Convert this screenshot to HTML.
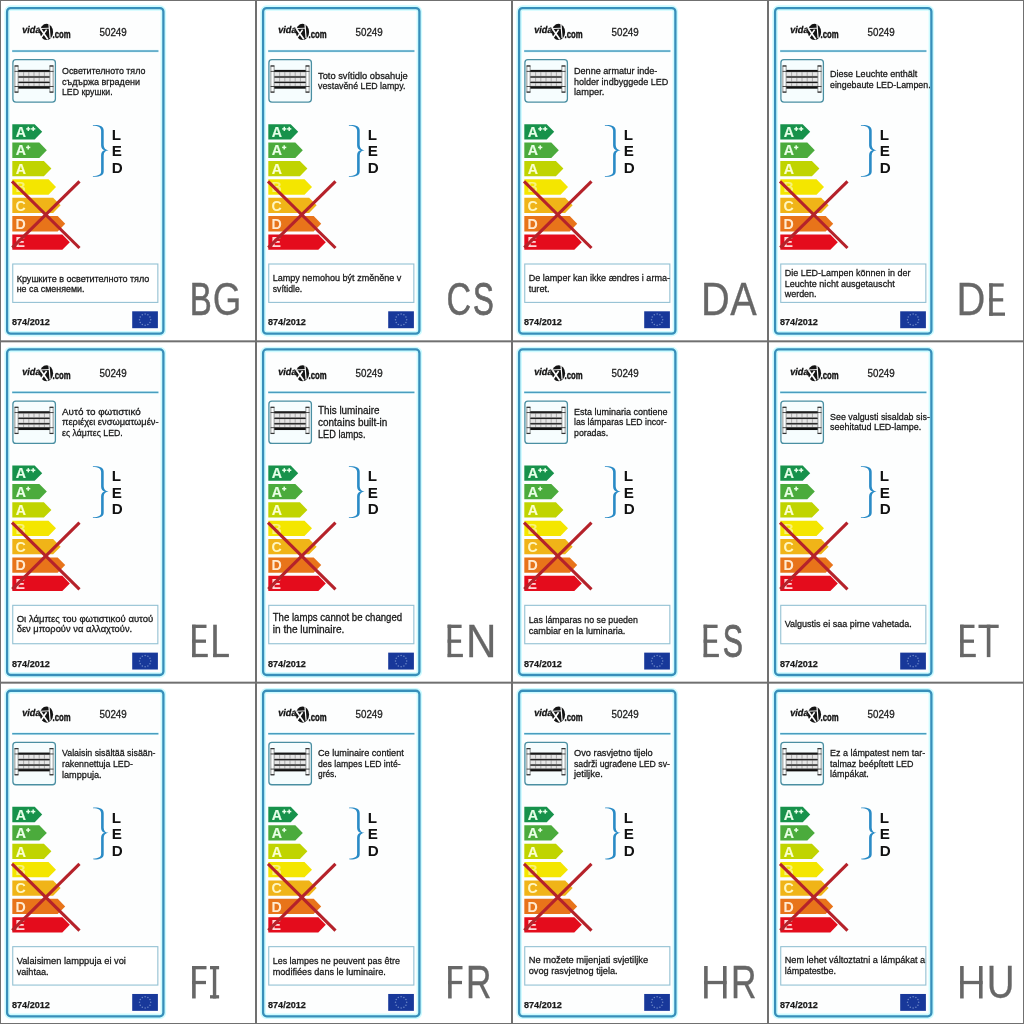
<!DOCTYPE html>
<html><head><meta charset="utf-8"><style>
html,body{margin:0;padding:0;background:#fff;width:1024px;height:1024px;overflow:hidden}
svg{display:block;will-change:transform}
text{font-family:"Liberation Sans", sans-serif}
</style></head><body>
<svg width="1024" height="1024" viewBox="0 0 1024 1024">
<rect width="1024" height="1024" fill="#fff"/>
<g transform="translate(0,0.000)">
<rect x="7.1" y="8.1" width="156.3" height="325.55" rx="3.5" fill="#fdfefe" stroke="#cdfbff" stroke-width="5.5"/>
<rect x="7.1" y="8.1" width="156.3" height="325.55" rx="3.5" fill="none" stroke="#378fba" stroke-width="2.3"/>
<rect x="12.0" y="49.8" width="146.6" height="2.6" fill="#d8f6fb"/><rect x="12.2" y="50.3" width="146.2" height="1.5" fill="#4a9dbf"/>
<text transform="translate(21.7 33.3) skewX(-10)" x="0" y="0" font-size="9.8" font-weight="bold" fill="#141414" stroke="#141414" stroke-width="0.3" textLength="18.4" lengthAdjust="spacingAndGlyphs">vida</text>
<ellipse cx="46.5" cy="31.9" rx="6.6" ry="8.1" fill="#141414"/>
<line x1="40.6" y1="29.0" x2="47.8" y2="39.2" stroke="#fff" stroke-width="1.7"/>
<line x1="40.4" y1="38.6" x2="46.6" y2="29.6" stroke="#fff" stroke-width="1.6"/>
<line x1="48.9" y1="23.2" x2="50.1" y2="38.0" stroke="#fff" stroke-width="1.2"/>
<line x1="39.5" y1="28.6" x2="49.0" y2="28.2" stroke="#fff" stroke-width="0.9"/>
<text x="52.6" y="38.0" font-size="10.0" font-weight="bold" fill="#141414" stroke="#141414" stroke-width="0.4" textLength="18.0" lengthAdjust="spacingAndGlyphs">.com</text>
<text x="99.5" y="35.6" font-size="10.1" fill="#222" stroke="#222" stroke-width="0.3" textLength="27.2" lengthAdjust="spacingAndGlyphs">50249</text>
<rect x="12.9" y="59.7" width="42.5" height="42.4" rx="3" fill="#f6fdfe" stroke="#4a8fa2" stroke-width="1.3"/>
<rect x="14.9" y="65.9" width="3.2" height="26.2" fill="#fdfefe" stroke="#6a7070" stroke-width="0.75"/>
<rect x="14.6" y="65.4" width="3.8" height="1.2" fill="#333"/>
<rect x="14.6" y="91.5" width="3.8" height="1.2" fill="#333"/>
<rect x="49.9" y="65.9" width="3.2" height="26.2" fill="#fdfefe" stroke="#6a7070" stroke-width="0.75"/>
<rect x="49.6" y="65.4" width="3.8" height="1.2" fill="#333"/>
<rect x="49.6" y="91.5" width="3.8" height="1.2" fill="#333"/>
<rect x="18.3" y="71.7" width="31.4" height="14.6" fill="#a9a9a9"/>
<rect x="18.90" y="72.30" width="4.20" height="3.50" fill="#e6e6e6"/>
<rect x="24.10" y="72.30" width="4.20" height="3.50" fill="#e6e6e6"/>
<rect x="29.30" y="72.30" width="4.20" height="3.50" fill="#e6e6e6"/>
<rect x="34.50" y="72.30" width="4.20" height="3.50" fill="#e6e6e6"/>
<rect x="39.70" y="72.30" width="4.20" height="3.50" fill="#e6e6e6"/>
<rect x="44.90" y="72.30" width="4.20" height="3.50" fill="#e6e6e6"/>
<rect x="18.90" y="77.90" width="4.20" height="3.40" fill="#e6e6e6"/>
<rect x="24.10" y="77.90" width="4.20" height="3.40" fill="#e6e6e6"/>
<rect x="29.30" y="77.90" width="4.20" height="3.40" fill="#e6e6e6"/>
<rect x="34.50" y="77.90" width="4.20" height="3.40" fill="#e6e6e6"/>
<rect x="39.70" y="77.90" width="4.20" height="3.40" fill="#e6e6e6"/>
<rect x="44.90" y="77.90" width="4.20" height="3.40" fill="#e6e6e6"/>
<rect x="18.90" y="83.40" width="4.20" height="2.40" fill="#e6e6e6"/>
<rect x="24.10" y="83.40" width="4.20" height="2.40" fill="#e6e6e6"/>
<rect x="29.30" y="83.40" width="4.20" height="2.40" fill="#e6e6e6"/>
<rect x="34.50" y="83.40" width="4.20" height="2.40" fill="#e6e6e6"/>
<rect x="39.70" y="83.40" width="4.20" height="2.40" fill="#e6e6e6"/>
<rect x="44.90" y="83.40" width="4.20" height="2.40" fill="#e6e6e6"/>
<rect x="18.3" y="69.9" width="31.4" height="2.0" fill="#111"/>
<rect x="18.3" y="76.4" width="31.4" height="1.2" fill="#1a1a1a"/>
<rect x="18.3" y="81.8" width="31.4" height="1.2" fill="#1a1a1a"/>
<rect x="18.3" y="86.4" width="31.4" height="2.3" fill="#111"/>
<rect x="14.6" y="70.9" width="38.9" height="0.8" fill="#222"/>
<rect x="14.6" y="86.0" width="38.9" height="0.8" fill="#222"/>
<polygon points="12.3,124.20 34.70,124.20 42.20,131.85 34.70,139.50 12.3,139.50" fill="#17924b"/>
<polygon points="12.3,142.58 39.30,142.58 46.80,150.23 39.30,157.88 12.3,157.88" fill="#4bab3c"/>
<polygon points="12.3,160.96 43.90,160.96 51.40,168.61 43.90,176.26 12.3,176.26" fill="#c0d400"/>
<polygon points="12.3,179.34 48.50,179.34 56.00,186.99 48.50,194.64 12.3,194.64" fill="#f4e600"/>
<polygon points="12.3,197.72 53.10,197.72 60.60,205.37 53.10,213.02 12.3,213.02" fill="#f0b418"/>
<polygon points="12.3,216.10 57.70,216.10 65.20,223.75 57.70,231.40 12.3,231.40" fill="#e8741a"/>
<polygon points="12.3,234.48 62.30,234.48 69.80,242.13 62.30,249.78 12.3,249.78" fill="#e40c1c"/>
<text x="15.799999999999999" y="137.10" font-size="14.2" font-weight="bold" fill="#e6ffe8" stroke="#e6ffe8" stroke-width="0.15">A</text>
<text x="15.799999999999999" y="155.48" font-size="14.2" font-weight="bold" fill="#eaffe6" stroke="#eaffe6" stroke-width="0.15">A</text>
<text x="15.799999999999999" y="173.86" font-size="14.2" font-weight="bold" fill="#fbffd0" stroke="#fbffd0" stroke-width="0.15">A</text>
<text x="15.6" y="192.24" font-size="14.2" font-weight="bold" fill="#f8f27a" stroke="#f8f27a" stroke-width="0.0">B</text>
<text x="15.6" y="210.62" font-size="14.2" font-weight="bold" fill="#fff6c0" stroke="#fff6c0" stroke-width="0.0">C</text>
<text x="15.6" y="229.00" font-size="14.2" font-weight="bold" fill="#ffead0" stroke="#ffead0" stroke-width="0.0">D</text>
<text x="15.6" y="247.38" font-size="14.2" font-weight="bold" fill="#ffd6d6" stroke="#ffd6d6" stroke-width="0.0">E</text>
<rect x="26.20" y="128.15" width="4.20" height="1.5" fill="#e6ffe8"/><rect x="27.55" y="126.80" width="1.5" height="4.20" fill="#e6ffe8"/>
<rect x="31.10" y="128.15" width="4.20" height="1.5" fill="#e6ffe8"/><rect x="32.45" y="126.80" width="1.5" height="4.20" fill="#e6ffe8"/>
<rect x="26.10" y="146.65" width="4.20" height="1.5" fill="#eaffe6"/><rect x="27.45" y="145.30" width="1.5" height="4.20" fill="#eaffe6"/>
<line x1="12" y1="181.3" x2="79.5" y2="248" stroke="#b5222a" stroke-width="3.1"/>
<line x1="79.5" y1="181.3" x2="12.3" y2="247.7" stroke="#b5222a" stroke-width="3.1"/>
<path d="M92.9,125.0 C99.5,124.6 103.7,126.2 103.7,130.5 L103.7,145.0 C103.7,148.2 105.5,149.8 108.6,150.2 C105.5,150.6 103.7,152.2 103.7,155.4 L103.7,171.5 C103.7,175.6 99.5,177.0 92.9,176.7 L92.9,176.0 C98.5,175.9 101.1,174.5 101.1,171.2 L101.1,155.0 C101.1,152.2 102.6,150.7 104.8,150.2 C102.6,149.7 101.1,148.2 101.1,145.4 L101.1,130.8 C101.1,127.4 98.5,125.8 92.9,125.7 Z" fill="#2a8bc6"/>
<text x="111.8" y="139.90" font-size="15.2" font-weight="bold" fill="#111">L</text>
<text x="111.8" y="156.45" font-size="15.2" font-weight="bold" fill="#111">E</text>
<text x="111.8" y="173.00" font-size="15.2" font-weight="bold" fill="#111">D</text>
<rect x="12.75" y="264" width="145.1" height="38.4" fill="#fff" stroke="#93c1d3" stroke-width="1.1"/>
<text x="12.0" y="325.2" font-size="9.6" font-weight="bold" fill="#1a1a1a" stroke="#1a1a1a" stroke-width="0.25" textLength="37.9" lengthAdjust="spacingAndGlyphs">874/2012</text>
<rect x="132.2" y="311.3" width="25.7" height="16.9" fill="#18389a"/>
<circle cx="150.70" cy="319.70" r="0.75" fill="#6d88c8"/>
<circle cx="149.95" cy="322.50" r="0.75" fill="#6d88c8"/>
<circle cx="147.90" cy="324.55" r="0.75" fill="#6d88c8"/>
<circle cx="145.10" cy="325.30" r="0.75" fill="#6d88c8"/>
<circle cx="142.30" cy="324.55" r="0.75" fill="#6d88c8"/>
<circle cx="140.25" cy="322.50" r="0.75" fill="#6d88c8"/>
<circle cx="139.50" cy="319.70" r="0.75" fill="#6d88c8"/>
<circle cx="140.25" cy="316.90" r="0.75" fill="#6d88c8"/>
<circle cx="142.30" cy="314.85" r="0.75" fill="#6d88c8"/>
<circle cx="145.10" cy="314.10" r="0.75" fill="#6d88c8"/>
<circle cx="147.90" cy="314.85" r="0.75" fill="#6d88c8"/>
<circle cx="149.95" cy="316.90" r="0.75" fill="#6d88c8"/>
<text x="62.0" y="74.2" font-size="9.9" fill="#161616" stroke="#161616" stroke-width="0.28" textLength="83.35" lengthAdjust="spacingAndGlyphs">Осветителното тяло</text>
<text x="62.0" y="84.7" font-size="9.9" fill="#161616" stroke="#161616" stroke-width="0.28" textLength="77.95" lengthAdjust="spacingAndGlyphs">съдържа вградени</text>
<text x="62.0" y="95.3" font-size="9.9" fill="#161616" stroke="#161616" stroke-width="0.28" textLength="50.60" lengthAdjust="spacingAndGlyphs">LED крушки.</text>
<text x="16.7" y="281.8" font-size="9.9" fill="#161616" stroke="#161616" stroke-width="0.28" textLength="132.70" lengthAdjust="spacingAndGlyphs">Крушките в осветителното тяло</text>
<text x="16.7" y="291.9" font-size="9.9" fill="#161616" stroke="#161616" stroke-width="0.28" textLength="67.80" lengthAdjust="spacingAndGlyphs">не са сменяеми.</text>
<text transform="translate(192.20 315.45) scale(0.7047 1)" x="-3.52" y="0" font-size="46.8" fill="#676767" stroke="#676767" stroke-width="0.63">B</text>
<text transform="translate(214.40 315.45) scale(0.7844 1)" x="-2.20" y="0" font-size="46.8" fill="#676767" stroke="#676767" stroke-width="0.30">G</text>
</g><g transform="translate(256,0.000)">
<rect x="7.1" y="8.1" width="156.3" height="325.55" rx="3.5" fill="#fdfefe" stroke="#cdfbff" stroke-width="5.5"/>
<rect x="7.1" y="8.1" width="156.3" height="325.55" rx="3.5" fill="none" stroke="#378fba" stroke-width="2.3"/>
<rect x="12.0" y="49.8" width="146.6" height="2.6" fill="#d8f6fb"/><rect x="12.2" y="50.3" width="146.2" height="1.5" fill="#4a9dbf"/>
<text transform="translate(21.7 33.3) skewX(-10)" x="0" y="0" font-size="9.8" font-weight="bold" fill="#141414" stroke="#141414" stroke-width="0.3" textLength="18.4" lengthAdjust="spacingAndGlyphs">vida</text>
<ellipse cx="46.5" cy="31.9" rx="6.6" ry="8.1" fill="#141414"/>
<line x1="40.6" y1="29.0" x2="47.8" y2="39.2" stroke="#fff" stroke-width="1.7"/>
<line x1="40.4" y1="38.6" x2="46.6" y2="29.6" stroke="#fff" stroke-width="1.6"/>
<line x1="48.9" y1="23.2" x2="50.1" y2="38.0" stroke="#fff" stroke-width="1.2"/>
<line x1="39.5" y1="28.6" x2="49.0" y2="28.2" stroke="#fff" stroke-width="0.9"/>
<text x="52.6" y="38.0" font-size="10.0" font-weight="bold" fill="#141414" stroke="#141414" stroke-width="0.4" textLength="18.0" lengthAdjust="spacingAndGlyphs">.com</text>
<text x="99.5" y="35.6" font-size="10.1" fill="#222" stroke="#222" stroke-width="0.3" textLength="27.2" lengthAdjust="spacingAndGlyphs">50249</text>
<rect x="12.9" y="59.7" width="42.5" height="42.4" rx="3" fill="#f6fdfe" stroke="#4a8fa2" stroke-width="1.3"/>
<rect x="14.9" y="65.9" width="3.2" height="26.2" fill="#fdfefe" stroke="#6a7070" stroke-width="0.75"/>
<rect x="14.6" y="65.4" width="3.8" height="1.2" fill="#333"/>
<rect x="14.6" y="91.5" width="3.8" height="1.2" fill="#333"/>
<rect x="49.9" y="65.9" width="3.2" height="26.2" fill="#fdfefe" stroke="#6a7070" stroke-width="0.75"/>
<rect x="49.6" y="65.4" width="3.8" height="1.2" fill="#333"/>
<rect x="49.6" y="91.5" width="3.8" height="1.2" fill="#333"/>
<rect x="18.3" y="71.7" width="31.4" height="14.6" fill="#a9a9a9"/>
<rect x="18.90" y="72.30" width="4.20" height="3.50" fill="#e6e6e6"/>
<rect x="24.10" y="72.30" width="4.20" height="3.50" fill="#e6e6e6"/>
<rect x="29.30" y="72.30" width="4.20" height="3.50" fill="#e6e6e6"/>
<rect x="34.50" y="72.30" width="4.20" height="3.50" fill="#e6e6e6"/>
<rect x="39.70" y="72.30" width="4.20" height="3.50" fill="#e6e6e6"/>
<rect x="44.90" y="72.30" width="4.20" height="3.50" fill="#e6e6e6"/>
<rect x="18.90" y="77.90" width="4.20" height="3.40" fill="#e6e6e6"/>
<rect x="24.10" y="77.90" width="4.20" height="3.40" fill="#e6e6e6"/>
<rect x="29.30" y="77.90" width="4.20" height="3.40" fill="#e6e6e6"/>
<rect x="34.50" y="77.90" width="4.20" height="3.40" fill="#e6e6e6"/>
<rect x="39.70" y="77.90" width="4.20" height="3.40" fill="#e6e6e6"/>
<rect x="44.90" y="77.90" width="4.20" height="3.40" fill="#e6e6e6"/>
<rect x="18.90" y="83.40" width="4.20" height="2.40" fill="#e6e6e6"/>
<rect x="24.10" y="83.40" width="4.20" height="2.40" fill="#e6e6e6"/>
<rect x="29.30" y="83.40" width="4.20" height="2.40" fill="#e6e6e6"/>
<rect x="34.50" y="83.40" width="4.20" height="2.40" fill="#e6e6e6"/>
<rect x="39.70" y="83.40" width="4.20" height="2.40" fill="#e6e6e6"/>
<rect x="44.90" y="83.40" width="4.20" height="2.40" fill="#e6e6e6"/>
<rect x="18.3" y="69.9" width="31.4" height="2.0" fill="#111"/>
<rect x="18.3" y="76.4" width="31.4" height="1.2" fill="#1a1a1a"/>
<rect x="18.3" y="81.8" width="31.4" height="1.2" fill="#1a1a1a"/>
<rect x="18.3" y="86.4" width="31.4" height="2.3" fill="#111"/>
<rect x="14.6" y="70.9" width="38.9" height="0.8" fill="#222"/>
<rect x="14.6" y="86.0" width="38.9" height="0.8" fill="#222"/>
<polygon points="12.3,124.20 34.70,124.20 42.20,131.85 34.70,139.50 12.3,139.50" fill="#17924b"/>
<polygon points="12.3,142.58 39.30,142.58 46.80,150.23 39.30,157.88 12.3,157.88" fill="#4bab3c"/>
<polygon points="12.3,160.96 43.90,160.96 51.40,168.61 43.90,176.26 12.3,176.26" fill="#c0d400"/>
<polygon points="12.3,179.34 48.50,179.34 56.00,186.99 48.50,194.64 12.3,194.64" fill="#f4e600"/>
<polygon points="12.3,197.72 53.10,197.72 60.60,205.37 53.10,213.02 12.3,213.02" fill="#f0b418"/>
<polygon points="12.3,216.10 57.70,216.10 65.20,223.75 57.70,231.40 12.3,231.40" fill="#e8741a"/>
<polygon points="12.3,234.48 62.30,234.48 69.80,242.13 62.30,249.78 12.3,249.78" fill="#e40c1c"/>
<text x="15.799999999999999" y="137.10" font-size="14.2" font-weight="bold" fill="#e6ffe8" stroke="#e6ffe8" stroke-width="0.15">A</text>
<text x="15.799999999999999" y="155.48" font-size="14.2" font-weight="bold" fill="#eaffe6" stroke="#eaffe6" stroke-width="0.15">A</text>
<text x="15.799999999999999" y="173.86" font-size="14.2" font-weight="bold" fill="#fbffd0" stroke="#fbffd0" stroke-width="0.15">A</text>
<text x="15.6" y="192.24" font-size="14.2" font-weight="bold" fill="#f8f27a" stroke="#f8f27a" stroke-width="0.0">B</text>
<text x="15.6" y="210.62" font-size="14.2" font-weight="bold" fill="#fff6c0" stroke="#fff6c0" stroke-width="0.0">C</text>
<text x="15.6" y="229.00" font-size="14.2" font-weight="bold" fill="#ffead0" stroke="#ffead0" stroke-width="0.0">D</text>
<text x="15.6" y="247.38" font-size="14.2" font-weight="bold" fill="#ffd6d6" stroke="#ffd6d6" stroke-width="0.0">E</text>
<rect x="26.20" y="128.15" width="4.20" height="1.5" fill="#e6ffe8"/><rect x="27.55" y="126.80" width="1.5" height="4.20" fill="#e6ffe8"/>
<rect x="31.10" y="128.15" width="4.20" height="1.5" fill="#e6ffe8"/><rect x="32.45" y="126.80" width="1.5" height="4.20" fill="#e6ffe8"/>
<rect x="26.10" y="146.65" width="4.20" height="1.5" fill="#eaffe6"/><rect x="27.45" y="145.30" width="1.5" height="4.20" fill="#eaffe6"/>
<line x1="12" y1="181.3" x2="79.5" y2="248" stroke="#b5222a" stroke-width="3.1"/>
<line x1="79.5" y1="181.3" x2="12.3" y2="247.7" stroke="#b5222a" stroke-width="3.1"/>
<path d="M92.9,125.0 C99.5,124.6 103.7,126.2 103.7,130.5 L103.7,145.0 C103.7,148.2 105.5,149.8 108.6,150.2 C105.5,150.6 103.7,152.2 103.7,155.4 L103.7,171.5 C103.7,175.6 99.5,177.0 92.9,176.7 L92.9,176.0 C98.5,175.9 101.1,174.5 101.1,171.2 L101.1,155.0 C101.1,152.2 102.6,150.7 104.8,150.2 C102.6,149.7 101.1,148.2 101.1,145.4 L101.1,130.8 C101.1,127.4 98.5,125.8 92.9,125.7 Z" fill="#2a8bc6"/>
<text x="111.8" y="139.90" font-size="15.2" font-weight="bold" fill="#111">L</text>
<text x="111.8" y="156.45" font-size="15.2" font-weight="bold" fill="#111">E</text>
<text x="111.8" y="173.00" font-size="15.2" font-weight="bold" fill="#111">D</text>
<rect x="12.75" y="264" width="145.1" height="38.4" fill="#fff" stroke="#93c1d3" stroke-width="1.1"/>
<text x="12.0" y="325.2" font-size="9.6" font-weight="bold" fill="#1a1a1a" stroke="#1a1a1a" stroke-width="0.25" textLength="37.9" lengthAdjust="spacingAndGlyphs">874/2012</text>
<rect x="132.2" y="311.3" width="25.7" height="16.9" fill="#18389a"/>
<circle cx="150.70" cy="319.70" r="0.75" fill="#6d88c8"/>
<circle cx="149.95" cy="322.50" r="0.75" fill="#6d88c8"/>
<circle cx="147.90" cy="324.55" r="0.75" fill="#6d88c8"/>
<circle cx="145.10" cy="325.30" r="0.75" fill="#6d88c8"/>
<circle cx="142.30" cy="324.55" r="0.75" fill="#6d88c8"/>
<circle cx="140.25" cy="322.50" r="0.75" fill="#6d88c8"/>
<circle cx="139.50" cy="319.70" r="0.75" fill="#6d88c8"/>
<circle cx="140.25" cy="316.90" r="0.75" fill="#6d88c8"/>
<circle cx="142.30" cy="314.85" r="0.75" fill="#6d88c8"/>
<circle cx="145.10" cy="314.10" r="0.75" fill="#6d88c8"/>
<circle cx="147.90" cy="314.85" r="0.75" fill="#6d88c8"/>
<circle cx="149.95" cy="316.90" r="0.75" fill="#6d88c8"/>
<text x="62.0" y="79.0" font-size="9.9" fill="#161616" stroke="#161616" stroke-width="0.28" textLength="89.65" lengthAdjust="spacingAndGlyphs">Toto svítidlo obsahuje</text>
<text x="62.0" y="89.2" font-size="9.9" fill="#161616" stroke="#161616" stroke-width="0.28" textLength="87.35" lengthAdjust="spacingAndGlyphs">vestavěné LED lampy.</text>
<text x="16.7" y="281.0" font-size="9.9" fill="#161616" stroke="#161616" stroke-width="0.28" textLength="128.70" lengthAdjust="spacingAndGlyphs">Lampy nemohou být změněne v</text>
<text x="16.7" y="291.6" font-size="9.9" fill="#161616" stroke="#161616" stroke-width="0.28" textLength="29.50" lengthAdjust="spacingAndGlyphs">svítidle.</text>
<text transform="translate(192.10 315.45) scale(0.7294 1)" x="-2.11" y="0" font-size="46.8" fill="#676767" stroke="#676767" stroke-width="0.52">C</text>
<text transform="translate(218.10 315.45) scale(0.6669 1)" x="-1.73" y="0" font-size="46.8" fill="#676767" stroke="#676767" stroke-width="0.80">S</text>
</g><g transform="translate(512,0.000)">
<rect x="7.1" y="8.1" width="156.3" height="325.55" rx="3.5" fill="#fdfefe" stroke="#cdfbff" stroke-width="5.5"/>
<rect x="7.1" y="8.1" width="156.3" height="325.55" rx="3.5" fill="none" stroke="#378fba" stroke-width="2.3"/>
<rect x="12.0" y="49.8" width="146.6" height="2.6" fill="#d8f6fb"/><rect x="12.2" y="50.3" width="146.2" height="1.5" fill="#4a9dbf"/>
<text transform="translate(21.7 33.3) skewX(-10)" x="0" y="0" font-size="9.8" font-weight="bold" fill="#141414" stroke="#141414" stroke-width="0.3" textLength="18.4" lengthAdjust="spacingAndGlyphs">vida</text>
<ellipse cx="46.5" cy="31.9" rx="6.6" ry="8.1" fill="#141414"/>
<line x1="40.6" y1="29.0" x2="47.8" y2="39.2" stroke="#fff" stroke-width="1.7"/>
<line x1="40.4" y1="38.6" x2="46.6" y2="29.6" stroke="#fff" stroke-width="1.6"/>
<line x1="48.9" y1="23.2" x2="50.1" y2="38.0" stroke="#fff" stroke-width="1.2"/>
<line x1="39.5" y1="28.6" x2="49.0" y2="28.2" stroke="#fff" stroke-width="0.9"/>
<text x="52.6" y="38.0" font-size="10.0" font-weight="bold" fill="#141414" stroke="#141414" stroke-width="0.4" textLength="18.0" lengthAdjust="spacingAndGlyphs">.com</text>
<text x="99.5" y="35.6" font-size="10.1" fill="#222" stroke="#222" stroke-width="0.3" textLength="27.2" lengthAdjust="spacingAndGlyphs">50249</text>
<rect x="12.9" y="59.7" width="42.5" height="42.4" rx="3" fill="#f6fdfe" stroke="#4a8fa2" stroke-width="1.3"/>
<rect x="14.9" y="65.9" width="3.2" height="26.2" fill="#fdfefe" stroke="#6a7070" stroke-width="0.75"/>
<rect x="14.6" y="65.4" width="3.8" height="1.2" fill="#333"/>
<rect x="14.6" y="91.5" width="3.8" height="1.2" fill="#333"/>
<rect x="49.9" y="65.9" width="3.2" height="26.2" fill="#fdfefe" stroke="#6a7070" stroke-width="0.75"/>
<rect x="49.6" y="65.4" width="3.8" height="1.2" fill="#333"/>
<rect x="49.6" y="91.5" width="3.8" height="1.2" fill="#333"/>
<rect x="18.3" y="71.7" width="31.4" height="14.6" fill="#a9a9a9"/>
<rect x="18.90" y="72.30" width="4.20" height="3.50" fill="#e6e6e6"/>
<rect x="24.10" y="72.30" width="4.20" height="3.50" fill="#e6e6e6"/>
<rect x="29.30" y="72.30" width="4.20" height="3.50" fill="#e6e6e6"/>
<rect x="34.50" y="72.30" width="4.20" height="3.50" fill="#e6e6e6"/>
<rect x="39.70" y="72.30" width="4.20" height="3.50" fill="#e6e6e6"/>
<rect x="44.90" y="72.30" width="4.20" height="3.50" fill="#e6e6e6"/>
<rect x="18.90" y="77.90" width="4.20" height="3.40" fill="#e6e6e6"/>
<rect x="24.10" y="77.90" width="4.20" height="3.40" fill="#e6e6e6"/>
<rect x="29.30" y="77.90" width="4.20" height="3.40" fill="#e6e6e6"/>
<rect x="34.50" y="77.90" width="4.20" height="3.40" fill="#e6e6e6"/>
<rect x="39.70" y="77.90" width="4.20" height="3.40" fill="#e6e6e6"/>
<rect x="44.90" y="77.90" width="4.20" height="3.40" fill="#e6e6e6"/>
<rect x="18.90" y="83.40" width="4.20" height="2.40" fill="#e6e6e6"/>
<rect x="24.10" y="83.40" width="4.20" height="2.40" fill="#e6e6e6"/>
<rect x="29.30" y="83.40" width="4.20" height="2.40" fill="#e6e6e6"/>
<rect x="34.50" y="83.40" width="4.20" height="2.40" fill="#e6e6e6"/>
<rect x="39.70" y="83.40" width="4.20" height="2.40" fill="#e6e6e6"/>
<rect x="44.90" y="83.40" width="4.20" height="2.40" fill="#e6e6e6"/>
<rect x="18.3" y="69.9" width="31.4" height="2.0" fill="#111"/>
<rect x="18.3" y="76.4" width="31.4" height="1.2" fill="#1a1a1a"/>
<rect x="18.3" y="81.8" width="31.4" height="1.2" fill="#1a1a1a"/>
<rect x="18.3" y="86.4" width="31.4" height="2.3" fill="#111"/>
<rect x="14.6" y="70.9" width="38.9" height="0.8" fill="#222"/>
<rect x="14.6" y="86.0" width="38.9" height="0.8" fill="#222"/>
<polygon points="12.3,124.20 34.70,124.20 42.20,131.85 34.70,139.50 12.3,139.50" fill="#17924b"/>
<polygon points="12.3,142.58 39.30,142.58 46.80,150.23 39.30,157.88 12.3,157.88" fill="#4bab3c"/>
<polygon points="12.3,160.96 43.90,160.96 51.40,168.61 43.90,176.26 12.3,176.26" fill="#c0d400"/>
<polygon points="12.3,179.34 48.50,179.34 56.00,186.99 48.50,194.64 12.3,194.64" fill="#f4e600"/>
<polygon points="12.3,197.72 53.10,197.72 60.60,205.37 53.10,213.02 12.3,213.02" fill="#f0b418"/>
<polygon points="12.3,216.10 57.70,216.10 65.20,223.75 57.70,231.40 12.3,231.40" fill="#e8741a"/>
<polygon points="12.3,234.48 62.30,234.48 69.80,242.13 62.30,249.78 12.3,249.78" fill="#e40c1c"/>
<text x="15.799999999999999" y="137.10" font-size="14.2" font-weight="bold" fill="#e6ffe8" stroke="#e6ffe8" stroke-width="0.15">A</text>
<text x="15.799999999999999" y="155.48" font-size="14.2" font-weight="bold" fill="#eaffe6" stroke="#eaffe6" stroke-width="0.15">A</text>
<text x="15.799999999999999" y="173.86" font-size="14.2" font-weight="bold" fill="#fbffd0" stroke="#fbffd0" stroke-width="0.15">A</text>
<text x="15.6" y="192.24" font-size="14.2" font-weight="bold" fill="#f8f27a" stroke="#f8f27a" stroke-width="0.0">B</text>
<text x="15.6" y="210.62" font-size="14.2" font-weight="bold" fill="#fff6c0" stroke="#fff6c0" stroke-width="0.0">C</text>
<text x="15.6" y="229.00" font-size="14.2" font-weight="bold" fill="#ffead0" stroke="#ffead0" stroke-width="0.0">D</text>
<text x="15.6" y="247.38" font-size="14.2" font-weight="bold" fill="#ffd6d6" stroke="#ffd6d6" stroke-width="0.0">E</text>
<rect x="26.20" y="128.15" width="4.20" height="1.5" fill="#e6ffe8"/><rect x="27.55" y="126.80" width="1.5" height="4.20" fill="#e6ffe8"/>
<rect x="31.10" y="128.15" width="4.20" height="1.5" fill="#e6ffe8"/><rect x="32.45" y="126.80" width="1.5" height="4.20" fill="#e6ffe8"/>
<rect x="26.10" y="146.65" width="4.20" height="1.5" fill="#eaffe6"/><rect x="27.45" y="145.30" width="1.5" height="4.20" fill="#eaffe6"/>
<line x1="12" y1="181.3" x2="79.5" y2="248" stroke="#b5222a" stroke-width="3.1"/>
<line x1="79.5" y1="181.3" x2="12.3" y2="247.7" stroke="#b5222a" stroke-width="3.1"/>
<path d="M92.9,125.0 C99.5,124.6 103.7,126.2 103.7,130.5 L103.7,145.0 C103.7,148.2 105.5,149.8 108.6,150.2 C105.5,150.6 103.7,152.2 103.7,155.4 L103.7,171.5 C103.7,175.6 99.5,177.0 92.9,176.7 L92.9,176.0 C98.5,175.9 101.1,174.5 101.1,171.2 L101.1,155.0 C101.1,152.2 102.6,150.7 104.8,150.2 C102.6,149.7 101.1,148.2 101.1,145.4 L101.1,130.8 C101.1,127.4 98.5,125.8 92.9,125.7 Z" fill="#2a8bc6"/>
<text x="111.8" y="139.90" font-size="15.2" font-weight="bold" fill="#111">L</text>
<text x="111.8" y="156.45" font-size="15.2" font-weight="bold" fill="#111">E</text>
<text x="111.8" y="173.00" font-size="15.2" font-weight="bold" fill="#111">D</text>
<rect x="12.75" y="264" width="145.1" height="38.4" fill="#fff" stroke="#93c1d3" stroke-width="1.1"/>
<text x="12.0" y="325.2" font-size="9.6" font-weight="bold" fill="#1a1a1a" stroke="#1a1a1a" stroke-width="0.25" textLength="37.9" lengthAdjust="spacingAndGlyphs">874/2012</text>
<rect x="132.2" y="311.3" width="25.7" height="16.9" fill="#18389a"/>
<circle cx="150.70" cy="319.70" r="0.75" fill="#6d88c8"/>
<circle cx="149.95" cy="322.50" r="0.75" fill="#6d88c8"/>
<circle cx="147.90" cy="324.55" r="0.75" fill="#6d88c8"/>
<circle cx="145.10" cy="325.30" r="0.75" fill="#6d88c8"/>
<circle cx="142.30" cy="324.55" r="0.75" fill="#6d88c8"/>
<circle cx="140.25" cy="322.50" r="0.75" fill="#6d88c8"/>
<circle cx="139.50" cy="319.70" r="0.75" fill="#6d88c8"/>
<circle cx="140.25" cy="316.90" r="0.75" fill="#6d88c8"/>
<circle cx="142.30" cy="314.85" r="0.75" fill="#6d88c8"/>
<circle cx="145.10" cy="314.10" r="0.75" fill="#6d88c8"/>
<circle cx="147.90" cy="314.85" r="0.75" fill="#6d88c8"/>
<circle cx="149.95" cy="316.90" r="0.75" fill="#6d88c8"/>
<text x="62.0" y="74.3" font-size="9.9" fill="#161616" stroke="#161616" stroke-width="0.28" textLength="83.35" lengthAdjust="spacingAndGlyphs">Denne armatur inde-</text>
<text x="62.0" y="84.5" font-size="9.9" fill="#161616" stroke="#161616" stroke-width="0.28" textLength="94.35" lengthAdjust="spacingAndGlyphs">holder indbyggede LED</text>
<text x="62.0" y="95.4" font-size="9.9" fill="#161616" stroke="#161616" stroke-width="0.28" textLength="30.35" lengthAdjust="spacingAndGlyphs">lamper.</text>
<text x="16.7" y="281.3" font-size="9.9" fill="#161616" stroke="#161616" stroke-width="0.28" textLength="141.30" lengthAdjust="spacingAndGlyphs">De lamper kan ikke ændres i arma-</text>
<text x="16.7" y="291.9" font-size="9.9" fill="#161616" stroke="#161616" stroke-width="0.28" textLength="20.95" lengthAdjust="spacingAndGlyphs">turet.</text>
<text transform="translate(192.10 315.45) scale(0.8494 1)" x="-3.69" y="0" font-size="46.8" fill="#676767" stroke="#676767" stroke-width="0.30">D</text>
<text transform="translate(218.10 315.45) scale(0.8490 1)" x="0.06" y="0" font-size="46.8" fill="#676767" stroke="#676767" stroke-width="0.30">A</text>
</g><g transform="translate(768,0.000)">
<rect x="7.1" y="8.1" width="156.3" height="325.55" rx="3.5" fill="#fdfefe" stroke="#cdfbff" stroke-width="5.5"/>
<rect x="7.1" y="8.1" width="156.3" height="325.55" rx="3.5" fill="none" stroke="#378fba" stroke-width="2.3"/>
<rect x="12.0" y="49.8" width="146.6" height="2.6" fill="#d8f6fb"/><rect x="12.2" y="50.3" width="146.2" height="1.5" fill="#4a9dbf"/>
<text transform="translate(21.7 33.3) skewX(-10)" x="0" y="0" font-size="9.8" font-weight="bold" fill="#141414" stroke="#141414" stroke-width="0.3" textLength="18.4" lengthAdjust="spacingAndGlyphs">vida</text>
<ellipse cx="46.5" cy="31.9" rx="6.6" ry="8.1" fill="#141414"/>
<line x1="40.6" y1="29.0" x2="47.8" y2="39.2" stroke="#fff" stroke-width="1.7"/>
<line x1="40.4" y1="38.6" x2="46.6" y2="29.6" stroke="#fff" stroke-width="1.6"/>
<line x1="48.9" y1="23.2" x2="50.1" y2="38.0" stroke="#fff" stroke-width="1.2"/>
<line x1="39.5" y1="28.6" x2="49.0" y2="28.2" stroke="#fff" stroke-width="0.9"/>
<text x="52.6" y="38.0" font-size="10.0" font-weight="bold" fill="#141414" stroke="#141414" stroke-width="0.4" textLength="18.0" lengthAdjust="spacingAndGlyphs">.com</text>
<text x="99.5" y="35.6" font-size="10.1" fill="#222" stroke="#222" stroke-width="0.3" textLength="27.2" lengthAdjust="spacingAndGlyphs">50249</text>
<rect x="12.9" y="59.7" width="42.5" height="42.4" rx="3" fill="#f6fdfe" stroke="#4a8fa2" stroke-width="1.3"/>
<rect x="14.9" y="65.9" width="3.2" height="26.2" fill="#fdfefe" stroke="#6a7070" stroke-width="0.75"/>
<rect x="14.6" y="65.4" width="3.8" height="1.2" fill="#333"/>
<rect x="14.6" y="91.5" width="3.8" height="1.2" fill="#333"/>
<rect x="49.9" y="65.9" width="3.2" height="26.2" fill="#fdfefe" stroke="#6a7070" stroke-width="0.75"/>
<rect x="49.6" y="65.4" width="3.8" height="1.2" fill="#333"/>
<rect x="49.6" y="91.5" width="3.8" height="1.2" fill="#333"/>
<rect x="18.3" y="71.7" width="31.4" height="14.6" fill="#a9a9a9"/>
<rect x="18.90" y="72.30" width="4.20" height="3.50" fill="#e6e6e6"/>
<rect x="24.10" y="72.30" width="4.20" height="3.50" fill="#e6e6e6"/>
<rect x="29.30" y="72.30" width="4.20" height="3.50" fill="#e6e6e6"/>
<rect x="34.50" y="72.30" width="4.20" height="3.50" fill="#e6e6e6"/>
<rect x="39.70" y="72.30" width="4.20" height="3.50" fill="#e6e6e6"/>
<rect x="44.90" y="72.30" width="4.20" height="3.50" fill="#e6e6e6"/>
<rect x="18.90" y="77.90" width="4.20" height="3.40" fill="#e6e6e6"/>
<rect x="24.10" y="77.90" width="4.20" height="3.40" fill="#e6e6e6"/>
<rect x="29.30" y="77.90" width="4.20" height="3.40" fill="#e6e6e6"/>
<rect x="34.50" y="77.90" width="4.20" height="3.40" fill="#e6e6e6"/>
<rect x="39.70" y="77.90" width="4.20" height="3.40" fill="#e6e6e6"/>
<rect x="44.90" y="77.90" width="4.20" height="3.40" fill="#e6e6e6"/>
<rect x="18.90" y="83.40" width="4.20" height="2.40" fill="#e6e6e6"/>
<rect x="24.10" y="83.40" width="4.20" height="2.40" fill="#e6e6e6"/>
<rect x="29.30" y="83.40" width="4.20" height="2.40" fill="#e6e6e6"/>
<rect x="34.50" y="83.40" width="4.20" height="2.40" fill="#e6e6e6"/>
<rect x="39.70" y="83.40" width="4.20" height="2.40" fill="#e6e6e6"/>
<rect x="44.90" y="83.40" width="4.20" height="2.40" fill="#e6e6e6"/>
<rect x="18.3" y="69.9" width="31.4" height="2.0" fill="#111"/>
<rect x="18.3" y="76.4" width="31.4" height="1.2" fill="#1a1a1a"/>
<rect x="18.3" y="81.8" width="31.4" height="1.2" fill="#1a1a1a"/>
<rect x="18.3" y="86.4" width="31.4" height="2.3" fill="#111"/>
<rect x="14.6" y="70.9" width="38.9" height="0.8" fill="#222"/>
<rect x="14.6" y="86.0" width="38.9" height="0.8" fill="#222"/>
<polygon points="12.3,124.20 34.70,124.20 42.20,131.85 34.70,139.50 12.3,139.50" fill="#17924b"/>
<polygon points="12.3,142.58 39.30,142.58 46.80,150.23 39.30,157.88 12.3,157.88" fill="#4bab3c"/>
<polygon points="12.3,160.96 43.90,160.96 51.40,168.61 43.90,176.26 12.3,176.26" fill="#c0d400"/>
<polygon points="12.3,179.34 48.50,179.34 56.00,186.99 48.50,194.64 12.3,194.64" fill="#f4e600"/>
<polygon points="12.3,197.72 53.10,197.72 60.60,205.37 53.10,213.02 12.3,213.02" fill="#f0b418"/>
<polygon points="12.3,216.10 57.70,216.10 65.20,223.75 57.70,231.40 12.3,231.40" fill="#e8741a"/>
<polygon points="12.3,234.48 62.30,234.48 69.80,242.13 62.30,249.78 12.3,249.78" fill="#e40c1c"/>
<text x="15.799999999999999" y="137.10" font-size="14.2" font-weight="bold" fill="#e6ffe8" stroke="#e6ffe8" stroke-width="0.15">A</text>
<text x="15.799999999999999" y="155.48" font-size="14.2" font-weight="bold" fill="#eaffe6" stroke="#eaffe6" stroke-width="0.15">A</text>
<text x="15.799999999999999" y="173.86" font-size="14.2" font-weight="bold" fill="#fbffd0" stroke="#fbffd0" stroke-width="0.15">A</text>
<text x="15.6" y="192.24" font-size="14.2" font-weight="bold" fill="#f8f27a" stroke="#f8f27a" stroke-width="0.0">B</text>
<text x="15.6" y="210.62" font-size="14.2" font-weight="bold" fill="#fff6c0" stroke="#fff6c0" stroke-width="0.0">C</text>
<text x="15.6" y="229.00" font-size="14.2" font-weight="bold" fill="#ffead0" stroke="#ffead0" stroke-width="0.0">D</text>
<text x="15.6" y="247.38" font-size="14.2" font-weight="bold" fill="#ffd6d6" stroke="#ffd6d6" stroke-width="0.0">E</text>
<rect x="26.20" y="128.15" width="4.20" height="1.5" fill="#e6ffe8"/><rect x="27.55" y="126.80" width="1.5" height="4.20" fill="#e6ffe8"/>
<rect x="31.10" y="128.15" width="4.20" height="1.5" fill="#e6ffe8"/><rect x="32.45" y="126.80" width="1.5" height="4.20" fill="#e6ffe8"/>
<rect x="26.10" y="146.65" width="4.20" height="1.5" fill="#eaffe6"/><rect x="27.45" y="145.30" width="1.5" height="4.20" fill="#eaffe6"/>
<line x1="12" y1="181.3" x2="79.5" y2="248" stroke="#b5222a" stroke-width="3.1"/>
<line x1="79.5" y1="181.3" x2="12.3" y2="247.7" stroke="#b5222a" stroke-width="3.1"/>
<path d="M92.9,125.0 C99.5,124.6 103.7,126.2 103.7,130.5 L103.7,145.0 C103.7,148.2 105.5,149.8 108.6,150.2 C105.5,150.6 103.7,152.2 103.7,155.4 L103.7,171.5 C103.7,175.6 99.5,177.0 92.9,176.7 L92.9,176.0 C98.5,175.9 101.1,174.5 101.1,171.2 L101.1,155.0 C101.1,152.2 102.6,150.7 104.8,150.2 C102.6,149.7 101.1,148.2 101.1,145.4 L101.1,130.8 C101.1,127.4 98.5,125.8 92.9,125.7 Z" fill="#2a8bc6"/>
<text x="111.8" y="139.90" font-size="15.2" font-weight="bold" fill="#111">L</text>
<text x="111.8" y="156.45" font-size="15.2" font-weight="bold" fill="#111">E</text>
<text x="111.8" y="173.00" font-size="15.2" font-weight="bold" fill="#111">D</text>
<rect x="12.75" y="264" width="145.1" height="38.4" fill="#fff" stroke="#93c1d3" stroke-width="1.1"/>
<text x="12.0" y="325.2" font-size="9.6" font-weight="bold" fill="#1a1a1a" stroke="#1a1a1a" stroke-width="0.25" textLength="37.9" lengthAdjust="spacingAndGlyphs">874/2012</text>
<rect x="132.2" y="311.3" width="25.7" height="16.9" fill="#18389a"/>
<circle cx="150.70" cy="319.70" r="0.75" fill="#6d88c8"/>
<circle cx="149.95" cy="322.50" r="0.75" fill="#6d88c8"/>
<circle cx="147.90" cy="324.55" r="0.75" fill="#6d88c8"/>
<circle cx="145.10" cy="325.30" r="0.75" fill="#6d88c8"/>
<circle cx="142.30" cy="324.55" r="0.75" fill="#6d88c8"/>
<circle cx="140.25" cy="322.50" r="0.75" fill="#6d88c8"/>
<circle cx="139.50" cy="319.70" r="0.75" fill="#6d88c8"/>
<circle cx="140.25" cy="316.90" r="0.75" fill="#6d88c8"/>
<circle cx="142.30" cy="314.85" r="0.75" fill="#6d88c8"/>
<circle cx="145.10" cy="314.10" r="0.75" fill="#6d88c8"/>
<circle cx="147.90" cy="314.85" r="0.75" fill="#6d88c8"/>
<circle cx="149.95" cy="316.90" r="0.75" fill="#6d88c8"/>
<text x="62.0" y="77.4" font-size="9.9" fill="#161616" stroke="#161616" stroke-width="0.28" textLength="87.35" lengthAdjust="spacingAndGlyphs">Diese Leuchte enthält</text>
<text x="62.0" y="87.6" font-size="9.9" fill="#161616" stroke="#161616" stroke-width="0.28" textLength="100.60" lengthAdjust="spacingAndGlyphs">eingebaute LED-Lampen.</text>
<text x="16.7" y="276.3" font-size="9.9" fill="#161616" stroke="#161616" stroke-width="0.28" textLength="125.70" lengthAdjust="spacingAndGlyphs">Die LED-Lampen können in der</text>
<text x="16.7" y="286.5" font-size="9.9" fill="#161616" stroke="#161616" stroke-width="0.28" textLength="110.00" lengthAdjust="spacingAndGlyphs">Leuchte nicht ausgetauscht</text>
<text x="16.7" y="297.4" font-size="9.9" fill="#161616" stroke="#161616" stroke-width="0.28" textLength="31.90" lengthAdjust="spacingAndGlyphs">werden.</text>
<text transform="translate(191.60 315.45) scale(0.8530 1)" x="-3.69" y="0" font-size="46.8" fill="#676767" stroke="#676767" stroke-width="0.30">D</text>
<rect x="221.20" y="283.35" width="3.60" height="32.45" fill="#676767"/>
<rect x="221.20" y="283.35" width="14.50" height="3.30" fill="#676767"/>
<rect x="221.20" y="298.20" width="14.00" height="3.30" fill="#676767"/>
<rect x="221.20" y="312.50" width="15.80" height="3.30" fill="#676767"/>
</g><g transform="translate(0,341.333)">
<rect x="7.1" y="8.1" width="156.3" height="325.55" rx="3.5" fill="#fdfefe" stroke="#cdfbff" stroke-width="5.5"/>
<rect x="7.1" y="8.1" width="156.3" height="325.55" rx="3.5" fill="none" stroke="#378fba" stroke-width="2.3"/>
<rect x="12.0" y="49.8" width="146.6" height="2.6" fill="#d8f6fb"/><rect x="12.2" y="50.3" width="146.2" height="1.5" fill="#4a9dbf"/>
<text transform="translate(21.7 33.3) skewX(-10)" x="0" y="0" font-size="9.8" font-weight="bold" fill="#141414" stroke="#141414" stroke-width="0.3" textLength="18.4" lengthAdjust="spacingAndGlyphs">vida</text>
<ellipse cx="46.5" cy="31.9" rx="6.6" ry="8.1" fill="#141414"/>
<line x1="40.6" y1="29.0" x2="47.8" y2="39.2" stroke="#fff" stroke-width="1.7"/>
<line x1="40.4" y1="38.6" x2="46.6" y2="29.6" stroke="#fff" stroke-width="1.6"/>
<line x1="48.9" y1="23.2" x2="50.1" y2="38.0" stroke="#fff" stroke-width="1.2"/>
<line x1="39.5" y1="28.6" x2="49.0" y2="28.2" stroke="#fff" stroke-width="0.9"/>
<text x="52.6" y="38.0" font-size="10.0" font-weight="bold" fill="#141414" stroke="#141414" stroke-width="0.4" textLength="18.0" lengthAdjust="spacingAndGlyphs">.com</text>
<text x="99.5" y="35.6" font-size="10.1" fill="#222" stroke="#222" stroke-width="0.3" textLength="27.2" lengthAdjust="spacingAndGlyphs">50249</text>
<rect x="12.9" y="59.7" width="42.5" height="42.4" rx="3" fill="#f6fdfe" stroke="#4a8fa2" stroke-width="1.3"/>
<rect x="14.9" y="65.9" width="3.2" height="26.2" fill="#fdfefe" stroke="#6a7070" stroke-width="0.75"/>
<rect x="14.6" y="65.4" width="3.8" height="1.2" fill="#333"/>
<rect x="14.6" y="91.5" width="3.8" height="1.2" fill="#333"/>
<rect x="49.9" y="65.9" width="3.2" height="26.2" fill="#fdfefe" stroke="#6a7070" stroke-width="0.75"/>
<rect x="49.6" y="65.4" width="3.8" height="1.2" fill="#333"/>
<rect x="49.6" y="91.5" width="3.8" height="1.2" fill="#333"/>
<rect x="18.3" y="71.7" width="31.4" height="14.6" fill="#a9a9a9"/>
<rect x="18.90" y="72.30" width="4.20" height="3.50" fill="#e6e6e6"/>
<rect x="24.10" y="72.30" width="4.20" height="3.50" fill="#e6e6e6"/>
<rect x="29.30" y="72.30" width="4.20" height="3.50" fill="#e6e6e6"/>
<rect x="34.50" y="72.30" width="4.20" height="3.50" fill="#e6e6e6"/>
<rect x="39.70" y="72.30" width="4.20" height="3.50" fill="#e6e6e6"/>
<rect x="44.90" y="72.30" width="4.20" height="3.50" fill="#e6e6e6"/>
<rect x="18.90" y="77.90" width="4.20" height="3.40" fill="#e6e6e6"/>
<rect x="24.10" y="77.90" width="4.20" height="3.40" fill="#e6e6e6"/>
<rect x="29.30" y="77.90" width="4.20" height="3.40" fill="#e6e6e6"/>
<rect x="34.50" y="77.90" width="4.20" height="3.40" fill="#e6e6e6"/>
<rect x="39.70" y="77.90" width="4.20" height="3.40" fill="#e6e6e6"/>
<rect x="44.90" y="77.90" width="4.20" height="3.40" fill="#e6e6e6"/>
<rect x="18.90" y="83.40" width="4.20" height="2.40" fill="#e6e6e6"/>
<rect x="24.10" y="83.40" width="4.20" height="2.40" fill="#e6e6e6"/>
<rect x="29.30" y="83.40" width="4.20" height="2.40" fill="#e6e6e6"/>
<rect x="34.50" y="83.40" width="4.20" height="2.40" fill="#e6e6e6"/>
<rect x="39.70" y="83.40" width="4.20" height="2.40" fill="#e6e6e6"/>
<rect x="44.90" y="83.40" width="4.20" height="2.40" fill="#e6e6e6"/>
<rect x="18.3" y="69.9" width="31.4" height="2.0" fill="#111"/>
<rect x="18.3" y="76.4" width="31.4" height="1.2" fill="#1a1a1a"/>
<rect x="18.3" y="81.8" width="31.4" height="1.2" fill="#1a1a1a"/>
<rect x="18.3" y="86.4" width="31.4" height="2.3" fill="#111"/>
<rect x="14.6" y="70.9" width="38.9" height="0.8" fill="#222"/>
<rect x="14.6" y="86.0" width="38.9" height="0.8" fill="#222"/>
<polygon points="12.3,124.20 34.70,124.20 42.20,131.85 34.70,139.50 12.3,139.50" fill="#17924b"/>
<polygon points="12.3,142.58 39.30,142.58 46.80,150.23 39.30,157.88 12.3,157.88" fill="#4bab3c"/>
<polygon points="12.3,160.96 43.90,160.96 51.40,168.61 43.90,176.26 12.3,176.26" fill="#c0d400"/>
<polygon points="12.3,179.34 48.50,179.34 56.00,186.99 48.50,194.64 12.3,194.64" fill="#f4e600"/>
<polygon points="12.3,197.72 53.10,197.72 60.60,205.37 53.10,213.02 12.3,213.02" fill="#f0b418"/>
<polygon points="12.3,216.10 57.70,216.10 65.20,223.75 57.70,231.40 12.3,231.40" fill="#e8741a"/>
<polygon points="12.3,234.48 62.30,234.48 69.80,242.13 62.30,249.78 12.3,249.78" fill="#e40c1c"/>
<text x="15.799999999999999" y="137.10" font-size="14.2" font-weight="bold" fill="#e6ffe8" stroke="#e6ffe8" stroke-width="0.15">A</text>
<text x="15.799999999999999" y="155.48" font-size="14.2" font-weight="bold" fill="#eaffe6" stroke="#eaffe6" stroke-width="0.15">A</text>
<text x="15.799999999999999" y="173.86" font-size="14.2" font-weight="bold" fill="#fbffd0" stroke="#fbffd0" stroke-width="0.15">A</text>
<text x="15.6" y="192.24" font-size="14.2" font-weight="bold" fill="#f8f27a" stroke="#f8f27a" stroke-width="0.0">B</text>
<text x="15.6" y="210.62" font-size="14.2" font-weight="bold" fill="#fff6c0" stroke="#fff6c0" stroke-width="0.0">C</text>
<text x="15.6" y="229.00" font-size="14.2" font-weight="bold" fill="#ffead0" stroke="#ffead0" stroke-width="0.0">D</text>
<text x="15.6" y="247.38" font-size="14.2" font-weight="bold" fill="#ffd6d6" stroke="#ffd6d6" stroke-width="0.0">E</text>
<rect x="26.20" y="128.15" width="4.20" height="1.5" fill="#e6ffe8"/><rect x="27.55" y="126.80" width="1.5" height="4.20" fill="#e6ffe8"/>
<rect x="31.10" y="128.15" width="4.20" height="1.5" fill="#e6ffe8"/><rect x="32.45" y="126.80" width="1.5" height="4.20" fill="#e6ffe8"/>
<rect x="26.10" y="146.65" width="4.20" height="1.5" fill="#eaffe6"/><rect x="27.45" y="145.30" width="1.5" height="4.20" fill="#eaffe6"/>
<line x1="12" y1="181.3" x2="79.5" y2="248" stroke="#b5222a" stroke-width="3.1"/>
<line x1="79.5" y1="181.3" x2="12.3" y2="247.7" stroke="#b5222a" stroke-width="3.1"/>
<path d="M92.9,125.0 C99.5,124.6 103.7,126.2 103.7,130.5 L103.7,145.0 C103.7,148.2 105.5,149.8 108.6,150.2 C105.5,150.6 103.7,152.2 103.7,155.4 L103.7,171.5 C103.7,175.6 99.5,177.0 92.9,176.7 L92.9,176.0 C98.5,175.9 101.1,174.5 101.1,171.2 L101.1,155.0 C101.1,152.2 102.6,150.7 104.8,150.2 C102.6,149.7 101.1,148.2 101.1,145.4 L101.1,130.8 C101.1,127.4 98.5,125.8 92.9,125.7 Z" fill="#2a8bc6"/>
<text x="111.8" y="139.90" font-size="15.2" font-weight="bold" fill="#111">L</text>
<text x="111.8" y="156.45" font-size="15.2" font-weight="bold" fill="#111">E</text>
<text x="111.8" y="173.00" font-size="15.2" font-weight="bold" fill="#111">D</text>
<rect x="12.75" y="264" width="145.1" height="38.4" fill="#fff" stroke="#93c1d3" stroke-width="1.1"/>
<text x="12.0" y="325.2" font-size="9.6" font-weight="bold" fill="#1a1a1a" stroke="#1a1a1a" stroke-width="0.25" textLength="37.9" lengthAdjust="spacingAndGlyphs">874/2012</text>
<rect x="132.2" y="311.3" width="25.7" height="16.9" fill="#18389a"/>
<circle cx="150.70" cy="319.70" r="0.75" fill="#6d88c8"/>
<circle cx="149.95" cy="322.50" r="0.75" fill="#6d88c8"/>
<circle cx="147.90" cy="324.55" r="0.75" fill="#6d88c8"/>
<circle cx="145.10" cy="325.30" r="0.75" fill="#6d88c8"/>
<circle cx="142.30" cy="324.55" r="0.75" fill="#6d88c8"/>
<circle cx="140.25" cy="322.50" r="0.75" fill="#6d88c8"/>
<circle cx="139.50" cy="319.70" r="0.75" fill="#6d88c8"/>
<circle cx="140.25" cy="316.90" r="0.75" fill="#6d88c8"/>
<circle cx="142.30" cy="314.85" r="0.75" fill="#6d88c8"/>
<circle cx="145.10" cy="314.10" r="0.75" fill="#6d88c8"/>
<circle cx="147.90" cy="314.85" r="0.75" fill="#6d88c8"/>
<circle cx="149.95" cy="316.90" r="0.75" fill="#6d88c8"/>
<text x="62.0" y="74.0" font-size="9.9" fill="#161616" stroke="#161616" stroke-width="0.28" textLength="78.75" lengthAdjust="spacingAndGlyphs">Αυτό το φωτιστικό</text>
<text x="62.0" y="84.1" font-size="9.9" fill="#161616" stroke="#161616" stroke-width="0.28" textLength="96.65" lengthAdjust="spacingAndGlyphs">περιέχει ενσωματωμέν-</text>
<text x="62.0" y="95.1" font-size="9.9" fill="#161616" stroke="#161616" stroke-width="0.28" textLength="60.75" lengthAdjust="spacingAndGlyphs">ες λάμπες LED.</text>
<text x="16.7" y="280.7" font-size="9.9" fill="#161616" stroke="#161616" stroke-width="0.28" textLength="136.60" lengthAdjust="spacingAndGlyphs">Οι λάμπες του φωτιστικού αυτού</text>
<text x="16.7" y="290.8" font-size="9.9" fill="#161616" stroke="#161616" stroke-width="0.28" textLength="115.50" lengthAdjust="spacingAndGlyphs">δεν μπορούν να αλλαχτούν.</text>
<rect x="192.10" y="283.35" width="3.60" height="32.45" fill="#676767"/>
<rect x="192.10" y="283.35" width="14.40" height="3.30" fill="#676767"/>
<rect x="192.10" y="298.20" width="13.90" height="3.30" fill="#676767"/>
<rect x="192.10" y="312.50" width="15.70" height="3.30" fill="#676767"/>
<rect x="213.20" y="283.35" width="3.60" height="32.45" fill="#676767"/>
<rect x="213.20" y="312.50" width="15.70" height="3.30" fill="#676767"/>
</g><g transform="translate(256,341.333)">
<rect x="7.1" y="8.1" width="156.3" height="325.55" rx="3.5" fill="#fdfefe" stroke="#cdfbff" stroke-width="5.5"/>
<rect x="7.1" y="8.1" width="156.3" height="325.55" rx="3.5" fill="none" stroke="#378fba" stroke-width="2.3"/>
<rect x="12.0" y="49.8" width="146.6" height="2.6" fill="#d8f6fb"/><rect x="12.2" y="50.3" width="146.2" height="1.5" fill="#4a9dbf"/>
<text transform="translate(21.7 33.3) skewX(-10)" x="0" y="0" font-size="9.8" font-weight="bold" fill="#141414" stroke="#141414" stroke-width="0.3" textLength="18.4" lengthAdjust="spacingAndGlyphs">vida</text>
<ellipse cx="46.5" cy="31.9" rx="6.6" ry="8.1" fill="#141414"/>
<line x1="40.6" y1="29.0" x2="47.8" y2="39.2" stroke="#fff" stroke-width="1.7"/>
<line x1="40.4" y1="38.6" x2="46.6" y2="29.6" stroke="#fff" stroke-width="1.6"/>
<line x1="48.9" y1="23.2" x2="50.1" y2="38.0" stroke="#fff" stroke-width="1.2"/>
<line x1="39.5" y1="28.6" x2="49.0" y2="28.2" stroke="#fff" stroke-width="0.9"/>
<text x="52.6" y="38.0" font-size="10.0" font-weight="bold" fill="#141414" stroke="#141414" stroke-width="0.4" textLength="18.0" lengthAdjust="spacingAndGlyphs">.com</text>
<text x="99.5" y="35.6" font-size="10.1" fill="#222" stroke="#222" stroke-width="0.3" textLength="27.2" lengthAdjust="spacingAndGlyphs">50249</text>
<rect x="12.9" y="59.7" width="42.5" height="42.4" rx="3" fill="#f6fdfe" stroke="#4a8fa2" stroke-width="1.3"/>
<rect x="14.9" y="65.9" width="3.2" height="26.2" fill="#fdfefe" stroke="#6a7070" stroke-width="0.75"/>
<rect x="14.6" y="65.4" width="3.8" height="1.2" fill="#333"/>
<rect x="14.6" y="91.5" width="3.8" height="1.2" fill="#333"/>
<rect x="49.9" y="65.9" width="3.2" height="26.2" fill="#fdfefe" stroke="#6a7070" stroke-width="0.75"/>
<rect x="49.6" y="65.4" width="3.8" height="1.2" fill="#333"/>
<rect x="49.6" y="91.5" width="3.8" height="1.2" fill="#333"/>
<rect x="18.3" y="71.7" width="31.4" height="14.6" fill="#a9a9a9"/>
<rect x="18.90" y="72.30" width="4.20" height="3.50" fill="#e6e6e6"/>
<rect x="24.10" y="72.30" width="4.20" height="3.50" fill="#e6e6e6"/>
<rect x="29.30" y="72.30" width="4.20" height="3.50" fill="#e6e6e6"/>
<rect x="34.50" y="72.30" width="4.20" height="3.50" fill="#e6e6e6"/>
<rect x="39.70" y="72.30" width="4.20" height="3.50" fill="#e6e6e6"/>
<rect x="44.90" y="72.30" width="4.20" height="3.50" fill="#e6e6e6"/>
<rect x="18.90" y="77.90" width="4.20" height="3.40" fill="#e6e6e6"/>
<rect x="24.10" y="77.90" width="4.20" height="3.40" fill="#e6e6e6"/>
<rect x="29.30" y="77.90" width="4.20" height="3.40" fill="#e6e6e6"/>
<rect x="34.50" y="77.90" width="4.20" height="3.40" fill="#e6e6e6"/>
<rect x="39.70" y="77.90" width="4.20" height="3.40" fill="#e6e6e6"/>
<rect x="44.90" y="77.90" width="4.20" height="3.40" fill="#e6e6e6"/>
<rect x="18.90" y="83.40" width="4.20" height="2.40" fill="#e6e6e6"/>
<rect x="24.10" y="83.40" width="4.20" height="2.40" fill="#e6e6e6"/>
<rect x="29.30" y="83.40" width="4.20" height="2.40" fill="#e6e6e6"/>
<rect x="34.50" y="83.40" width="4.20" height="2.40" fill="#e6e6e6"/>
<rect x="39.70" y="83.40" width="4.20" height="2.40" fill="#e6e6e6"/>
<rect x="44.90" y="83.40" width="4.20" height="2.40" fill="#e6e6e6"/>
<rect x="18.3" y="69.9" width="31.4" height="2.0" fill="#111"/>
<rect x="18.3" y="76.4" width="31.4" height="1.2" fill="#1a1a1a"/>
<rect x="18.3" y="81.8" width="31.4" height="1.2" fill="#1a1a1a"/>
<rect x="18.3" y="86.4" width="31.4" height="2.3" fill="#111"/>
<rect x="14.6" y="70.9" width="38.9" height="0.8" fill="#222"/>
<rect x="14.6" y="86.0" width="38.9" height="0.8" fill="#222"/>
<polygon points="12.3,124.20 34.70,124.20 42.20,131.85 34.70,139.50 12.3,139.50" fill="#17924b"/>
<polygon points="12.3,142.58 39.30,142.58 46.80,150.23 39.30,157.88 12.3,157.88" fill="#4bab3c"/>
<polygon points="12.3,160.96 43.90,160.96 51.40,168.61 43.90,176.26 12.3,176.26" fill="#c0d400"/>
<polygon points="12.3,179.34 48.50,179.34 56.00,186.99 48.50,194.64 12.3,194.64" fill="#f4e600"/>
<polygon points="12.3,197.72 53.10,197.72 60.60,205.37 53.10,213.02 12.3,213.02" fill="#f0b418"/>
<polygon points="12.3,216.10 57.70,216.10 65.20,223.75 57.70,231.40 12.3,231.40" fill="#e8741a"/>
<polygon points="12.3,234.48 62.30,234.48 69.80,242.13 62.30,249.78 12.3,249.78" fill="#e40c1c"/>
<text x="15.799999999999999" y="137.10" font-size="14.2" font-weight="bold" fill="#e6ffe8" stroke="#e6ffe8" stroke-width="0.15">A</text>
<text x="15.799999999999999" y="155.48" font-size="14.2" font-weight="bold" fill="#eaffe6" stroke="#eaffe6" stroke-width="0.15">A</text>
<text x="15.799999999999999" y="173.86" font-size="14.2" font-weight="bold" fill="#fbffd0" stroke="#fbffd0" stroke-width="0.15">A</text>
<text x="15.6" y="192.24" font-size="14.2" font-weight="bold" fill="#f8f27a" stroke="#f8f27a" stroke-width="0.0">B</text>
<text x="15.6" y="210.62" font-size="14.2" font-weight="bold" fill="#fff6c0" stroke="#fff6c0" stroke-width="0.0">C</text>
<text x="15.6" y="229.00" font-size="14.2" font-weight="bold" fill="#ffead0" stroke="#ffead0" stroke-width="0.0">D</text>
<text x="15.6" y="247.38" font-size="14.2" font-weight="bold" fill="#ffd6d6" stroke="#ffd6d6" stroke-width="0.0">E</text>
<rect x="26.20" y="128.15" width="4.20" height="1.5" fill="#e6ffe8"/><rect x="27.55" y="126.80" width="1.5" height="4.20" fill="#e6ffe8"/>
<rect x="31.10" y="128.15" width="4.20" height="1.5" fill="#e6ffe8"/><rect x="32.45" y="126.80" width="1.5" height="4.20" fill="#e6ffe8"/>
<rect x="26.10" y="146.65" width="4.20" height="1.5" fill="#eaffe6"/><rect x="27.45" y="145.30" width="1.5" height="4.20" fill="#eaffe6"/>
<line x1="12" y1="181.3" x2="79.5" y2="248" stroke="#b5222a" stroke-width="3.1"/>
<line x1="79.5" y1="181.3" x2="12.3" y2="247.7" stroke="#b5222a" stroke-width="3.1"/>
<path d="M92.9,125.0 C99.5,124.6 103.7,126.2 103.7,130.5 L103.7,145.0 C103.7,148.2 105.5,149.8 108.6,150.2 C105.5,150.6 103.7,152.2 103.7,155.4 L103.7,171.5 C103.7,175.6 99.5,177.0 92.9,176.7 L92.9,176.0 C98.5,175.9 101.1,174.5 101.1,171.2 L101.1,155.0 C101.1,152.2 102.6,150.7 104.8,150.2 C102.6,149.7 101.1,148.2 101.1,145.4 L101.1,130.8 C101.1,127.4 98.5,125.8 92.9,125.7 Z" fill="#2a8bc6"/>
<text x="111.8" y="139.90" font-size="15.2" font-weight="bold" fill="#111">L</text>
<text x="111.8" y="156.45" font-size="15.2" font-weight="bold" fill="#111">E</text>
<text x="111.8" y="173.00" font-size="15.2" font-weight="bold" fill="#111">D</text>
<rect x="12.75" y="264" width="145.1" height="38.4" fill="#fff" stroke="#93c1d3" stroke-width="1.1"/>
<text x="12.0" y="325.2" font-size="9.6" font-weight="bold" fill="#1a1a1a" stroke="#1a1a1a" stroke-width="0.25" textLength="37.9" lengthAdjust="spacingAndGlyphs">874/2012</text>
<rect x="132.2" y="311.3" width="25.7" height="16.9" fill="#18389a"/>
<circle cx="150.70" cy="319.70" r="0.75" fill="#6d88c8"/>
<circle cx="149.95" cy="322.50" r="0.75" fill="#6d88c8"/>
<circle cx="147.90" cy="324.55" r="0.75" fill="#6d88c8"/>
<circle cx="145.10" cy="325.30" r="0.75" fill="#6d88c8"/>
<circle cx="142.30" cy="324.55" r="0.75" fill="#6d88c8"/>
<circle cx="140.25" cy="322.50" r="0.75" fill="#6d88c8"/>
<circle cx="139.50" cy="319.70" r="0.75" fill="#6d88c8"/>
<circle cx="140.25" cy="316.90" r="0.75" fill="#6d88c8"/>
<circle cx="142.30" cy="314.85" r="0.75" fill="#6d88c8"/>
<circle cx="145.10" cy="314.10" r="0.75" fill="#6d88c8"/>
<circle cx="147.90" cy="314.85" r="0.75" fill="#6d88c8"/>
<circle cx="149.95" cy="316.90" r="0.75" fill="#6d88c8"/>
<text x="62.0" y="72.5" font-size="10.3" fill="#161616" stroke="#161616" stroke-width="0.28" textLength="61.55" lengthAdjust="spacingAndGlyphs">This luminaire</text>
<text x="62.0" y="84.6" font-size="10.3" fill="#161616" stroke="#161616" stroke-width="0.28" textLength="69.35" lengthAdjust="spacingAndGlyphs">contains built-in</text>
<text x="62.0" y="96.4" font-size="10.3" fill="#161616" stroke="#161616" stroke-width="0.28" textLength="47.45" lengthAdjust="spacingAndGlyphs">LED lamps.</text>
<text x="16.7" y="279.9" font-size="10.1" fill="#161616" stroke="#161616" stroke-width="0.28" textLength="129.50" lengthAdjust="spacingAndGlyphs">The lamps cannot be changed</text>
<text x="16.7" y="291.3" font-size="10.1" fill="#161616" stroke="#161616" stroke-width="0.28" textLength="71.70" lengthAdjust="spacingAndGlyphs">in the luminaire.</text>
<rect x="191.60" y="283.35" width="3.60" height="32.45" fill="#676767"/>
<rect x="191.60" y="283.35" width="14.00" height="3.30" fill="#676767"/>
<rect x="191.60" y="298.20" width="13.50" height="3.30" fill="#676767"/>
<rect x="191.60" y="312.50" width="15.30" height="3.30" fill="#676767"/>
<text transform="translate(213.20 315.45) scale(0.9001 1)" x="-3.69" y="0" font-size="46.8" fill="#676767" stroke="#676767" stroke-width="0.30">N</text>
</g><g transform="translate(512,341.333)">
<rect x="7.1" y="8.1" width="156.3" height="325.55" rx="3.5" fill="#fdfefe" stroke="#cdfbff" stroke-width="5.5"/>
<rect x="7.1" y="8.1" width="156.3" height="325.55" rx="3.5" fill="none" stroke="#378fba" stroke-width="2.3"/>
<rect x="12.0" y="49.8" width="146.6" height="2.6" fill="#d8f6fb"/><rect x="12.2" y="50.3" width="146.2" height="1.5" fill="#4a9dbf"/>
<text transform="translate(21.7 33.3) skewX(-10)" x="0" y="0" font-size="9.8" font-weight="bold" fill="#141414" stroke="#141414" stroke-width="0.3" textLength="18.4" lengthAdjust="spacingAndGlyphs">vida</text>
<ellipse cx="46.5" cy="31.9" rx="6.6" ry="8.1" fill="#141414"/>
<line x1="40.6" y1="29.0" x2="47.8" y2="39.2" stroke="#fff" stroke-width="1.7"/>
<line x1="40.4" y1="38.6" x2="46.6" y2="29.6" stroke="#fff" stroke-width="1.6"/>
<line x1="48.9" y1="23.2" x2="50.1" y2="38.0" stroke="#fff" stroke-width="1.2"/>
<line x1="39.5" y1="28.6" x2="49.0" y2="28.2" stroke="#fff" stroke-width="0.9"/>
<text x="52.6" y="38.0" font-size="10.0" font-weight="bold" fill="#141414" stroke="#141414" stroke-width="0.4" textLength="18.0" lengthAdjust="spacingAndGlyphs">.com</text>
<text x="99.5" y="35.6" font-size="10.1" fill="#222" stroke="#222" stroke-width="0.3" textLength="27.2" lengthAdjust="spacingAndGlyphs">50249</text>
<rect x="12.9" y="59.7" width="42.5" height="42.4" rx="3" fill="#f6fdfe" stroke="#4a8fa2" stroke-width="1.3"/>
<rect x="14.9" y="65.9" width="3.2" height="26.2" fill="#fdfefe" stroke="#6a7070" stroke-width="0.75"/>
<rect x="14.6" y="65.4" width="3.8" height="1.2" fill="#333"/>
<rect x="14.6" y="91.5" width="3.8" height="1.2" fill="#333"/>
<rect x="49.9" y="65.9" width="3.2" height="26.2" fill="#fdfefe" stroke="#6a7070" stroke-width="0.75"/>
<rect x="49.6" y="65.4" width="3.8" height="1.2" fill="#333"/>
<rect x="49.6" y="91.5" width="3.8" height="1.2" fill="#333"/>
<rect x="18.3" y="71.7" width="31.4" height="14.6" fill="#a9a9a9"/>
<rect x="18.90" y="72.30" width="4.20" height="3.50" fill="#e6e6e6"/>
<rect x="24.10" y="72.30" width="4.20" height="3.50" fill="#e6e6e6"/>
<rect x="29.30" y="72.30" width="4.20" height="3.50" fill="#e6e6e6"/>
<rect x="34.50" y="72.30" width="4.20" height="3.50" fill="#e6e6e6"/>
<rect x="39.70" y="72.30" width="4.20" height="3.50" fill="#e6e6e6"/>
<rect x="44.90" y="72.30" width="4.20" height="3.50" fill="#e6e6e6"/>
<rect x="18.90" y="77.90" width="4.20" height="3.40" fill="#e6e6e6"/>
<rect x="24.10" y="77.90" width="4.20" height="3.40" fill="#e6e6e6"/>
<rect x="29.30" y="77.90" width="4.20" height="3.40" fill="#e6e6e6"/>
<rect x="34.50" y="77.90" width="4.20" height="3.40" fill="#e6e6e6"/>
<rect x="39.70" y="77.90" width="4.20" height="3.40" fill="#e6e6e6"/>
<rect x="44.90" y="77.90" width="4.20" height="3.40" fill="#e6e6e6"/>
<rect x="18.90" y="83.40" width="4.20" height="2.40" fill="#e6e6e6"/>
<rect x="24.10" y="83.40" width="4.20" height="2.40" fill="#e6e6e6"/>
<rect x="29.30" y="83.40" width="4.20" height="2.40" fill="#e6e6e6"/>
<rect x="34.50" y="83.40" width="4.20" height="2.40" fill="#e6e6e6"/>
<rect x="39.70" y="83.40" width="4.20" height="2.40" fill="#e6e6e6"/>
<rect x="44.90" y="83.40" width="4.20" height="2.40" fill="#e6e6e6"/>
<rect x="18.3" y="69.9" width="31.4" height="2.0" fill="#111"/>
<rect x="18.3" y="76.4" width="31.4" height="1.2" fill="#1a1a1a"/>
<rect x="18.3" y="81.8" width="31.4" height="1.2" fill="#1a1a1a"/>
<rect x="18.3" y="86.4" width="31.4" height="2.3" fill="#111"/>
<rect x="14.6" y="70.9" width="38.9" height="0.8" fill="#222"/>
<rect x="14.6" y="86.0" width="38.9" height="0.8" fill="#222"/>
<polygon points="12.3,124.20 34.70,124.20 42.20,131.85 34.70,139.50 12.3,139.50" fill="#17924b"/>
<polygon points="12.3,142.58 39.30,142.58 46.80,150.23 39.30,157.88 12.3,157.88" fill="#4bab3c"/>
<polygon points="12.3,160.96 43.90,160.96 51.40,168.61 43.90,176.26 12.3,176.26" fill="#c0d400"/>
<polygon points="12.3,179.34 48.50,179.34 56.00,186.99 48.50,194.64 12.3,194.64" fill="#f4e600"/>
<polygon points="12.3,197.72 53.10,197.72 60.60,205.37 53.10,213.02 12.3,213.02" fill="#f0b418"/>
<polygon points="12.3,216.10 57.70,216.10 65.20,223.75 57.70,231.40 12.3,231.40" fill="#e8741a"/>
<polygon points="12.3,234.48 62.30,234.48 69.80,242.13 62.30,249.78 12.3,249.78" fill="#e40c1c"/>
<text x="15.799999999999999" y="137.10" font-size="14.2" font-weight="bold" fill="#e6ffe8" stroke="#e6ffe8" stroke-width="0.15">A</text>
<text x="15.799999999999999" y="155.48" font-size="14.2" font-weight="bold" fill="#eaffe6" stroke="#eaffe6" stroke-width="0.15">A</text>
<text x="15.799999999999999" y="173.86" font-size="14.2" font-weight="bold" fill="#fbffd0" stroke="#fbffd0" stroke-width="0.15">A</text>
<text x="15.6" y="192.24" font-size="14.2" font-weight="bold" fill="#f8f27a" stroke="#f8f27a" stroke-width="0.0">B</text>
<text x="15.6" y="210.62" font-size="14.2" font-weight="bold" fill="#fff6c0" stroke="#fff6c0" stroke-width="0.0">C</text>
<text x="15.6" y="229.00" font-size="14.2" font-weight="bold" fill="#ffead0" stroke="#ffead0" stroke-width="0.0">D</text>
<text x="15.6" y="247.38" font-size="14.2" font-weight="bold" fill="#ffd6d6" stroke="#ffd6d6" stroke-width="0.0">E</text>
<rect x="26.20" y="128.15" width="4.20" height="1.5" fill="#e6ffe8"/><rect x="27.55" y="126.80" width="1.5" height="4.20" fill="#e6ffe8"/>
<rect x="31.10" y="128.15" width="4.20" height="1.5" fill="#e6ffe8"/><rect x="32.45" y="126.80" width="1.5" height="4.20" fill="#e6ffe8"/>
<rect x="26.10" y="146.65" width="4.20" height="1.5" fill="#eaffe6"/><rect x="27.45" y="145.30" width="1.5" height="4.20" fill="#eaffe6"/>
<line x1="12" y1="181.3" x2="79.5" y2="248" stroke="#b5222a" stroke-width="3.1"/>
<line x1="79.5" y1="181.3" x2="12.3" y2="247.7" stroke="#b5222a" stroke-width="3.1"/>
<path d="M92.9,125.0 C99.5,124.6 103.7,126.2 103.7,130.5 L103.7,145.0 C103.7,148.2 105.5,149.8 108.6,150.2 C105.5,150.6 103.7,152.2 103.7,155.4 L103.7,171.5 C103.7,175.6 99.5,177.0 92.9,176.7 L92.9,176.0 C98.5,175.9 101.1,174.5 101.1,171.2 L101.1,155.0 C101.1,152.2 102.6,150.7 104.8,150.2 C102.6,149.7 101.1,148.2 101.1,145.4 L101.1,130.8 C101.1,127.4 98.5,125.8 92.9,125.7 Z" fill="#2a8bc6"/>
<text x="111.8" y="139.90" font-size="15.2" font-weight="bold" fill="#111">L</text>
<text x="111.8" y="156.45" font-size="15.2" font-weight="bold" fill="#111">E</text>
<text x="111.8" y="173.00" font-size="15.2" font-weight="bold" fill="#111">D</text>
<rect x="12.75" y="264" width="145.1" height="38.4" fill="#fff" stroke="#93c1d3" stroke-width="1.1"/>
<text x="12.0" y="325.2" font-size="9.6" font-weight="bold" fill="#1a1a1a" stroke="#1a1a1a" stroke-width="0.25" textLength="37.9" lengthAdjust="spacingAndGlyphs">874/2012</text>
<rect x="132.2" y="311.3" width="25.7" height="16.9" fill="#18389a"/>
<circle cx="150.70" cy="319.70" r="0.75" fill="#6d88c8"/>
<circle cx="149.95" cy="322.50" r="0.75" fill="#6d88c8"/>
<circle cx="147.90" cy="324.55" r="0.75" fill="#6d88c8"/>
<circle cx="145.10" cy="325.30" r="0.75" fill="#6d88c8"/>
<circle cx="142.30" cy="324.55" r="0.75" fill="#6d88c8"/>
<circle cx="140.25" cy="322.50" r="0.75" fill="#6d88c8"/>
<circle cx="139.50" cy="319.70" r="0.75" fill="#6d88c8"/>
<circle cx="140.25" cy="316.90" r="0.75" fill="#6d88c8"/>
<circle cx="142.30" cy="314.85" r="0.75" fill="#6d88c8"/>
<circle cx="145.10" cy="314.10" r="0.75" fill="#6d88c8"/>
<circle cx="147.90" cy="314.85" r="0.75" fill="#6d88c8"/>
<circle cx="149.95" cy="316.90" r="0.75" fill="#6d88c8"/>
<text x="62.0" y="73.7" font-size="9.9" fill="#161616" stroke="#161616" stroke-width="0.28" textLength="93.55" lengthAdjust="spacingAndGlyphs">Esta luminaria contiene</text>
<text x="62.0" y="84.1" font-size="9.9" fill="#161616" stroke="#161616" stroke-width="0.28" textLength="92.75" lengthAdjust="spacingAndGlyphs">las lámparas LED incor-</text>
<text x="62.0" y="94.6" font-size="9.9" fill="#161616" stroke="#161616" stroke-width="0.28" textLength="34.15" lengthAdjust="spacingAndGlyphs">poradas.</text>
<text x="16.7" y="281.4" font-size="9.9" fill="#161616" stroke="#161616" stroke-width="0.28" textLength="109.20" lengthAdjust="spacingAndGlyphs">Las lámparas no se pueden</text>
<text x="16.7" y="292.4" font-size="9.9" fill="#161616" stroke="#161616" stroke-width="0.28" textLength="96.70" lengthAdjust="spacingAndGlyphs">cambiar en la luminaria.</text>
<rect x="191.60" y="283.35" width="3.60" height="32.45" fill="#676767"/>
<rect x="191.60" y="283.35" width="14.00" height="3.30" fill="#676767"/>
<rect x="191.60" y="298.20" width="13.50" height="3.30" fill="#676767"/>
<rect x="191.60" y="312.50" width="15.30" height="3.30" fill="#676767"/>
<text transform="translate(211.80 315.45) scale(0.6488 1)" x="-1.73" y="0" font-size="46.8" fill="#676767" stroke="#676767" stroke-width="0.80">S</text>
</g><g transform="translate(768,341.333)">
<rect x="7.1" y="8.1" width="156.3" height="325.55" rx="3.5" fill="#fdfefe" stroke="#cdfbff" stroke-width="5.5"/>
<rect x="7.1" y="8.1" width="156.3" height="325.55" rx="3.5" fill="none" stroke="#378fba" stroke-width="2.3"/>
<rect x="12.0" y="49.8" width="146.6" height="2.6" fill="#d8f6fb"/><rect x="12.2" y="50.3" width="146.2" height="1.5" fill="#4a9dbf"/>
<text transform="translate(21.7 33.3) skewX(-10)" x="0" y="0" font-size="9.8" font-weight="bold" fill="#141414" stroke="#141414" stroke-width="0.3" textLength="18.4" lengthAdjust="spacingAndGlyphs">vida</text>
<ellipse cx="46.5" cy="31.9" rx="6.6" ry="8.1" fill="#141414"/>
<line x1="40.6" y1="29.0" x2="47.8" y2="39.2" stroke="#fff" stroke-width="1.7"/>
<line x1="40.4" y1="38.6" x2="46.6" y2="29.6" stroke="#fff" stroke-width="1.6"/>
<line x1="48.9" y1="23.2" x2="50.1" y2="38.0" stroke="#fff" stroke-width="1.2"/>
<line x1="39.5" y1="28.6" x2="49.0" y2="28.2" stroke="#fff" stroke-width="0.9"/>
<text x="52.6" y="38.0" font-size="10.0" font-weight="bold" fill="#141414" stroke="#141414" stroke-width="0.4" textLength="18.0" lengthAdjust="spacingAndGlyphs">.com</text>
<text x="99.5" y="35.6" font-size="10.1" fill="#222" stroke="#222" stroke-width="0.3" textLength="27.2" lengthAdjust="spacingAndGlyphs">50249</text>
<rect x="12.9" y="59.7" width="42.5" height="42.4" rx="3" fill="#f6fdfe" stroke="#4a8fa2" stroke-width="1.3"/>
<rect x="14.9" y="65.9" width="3.2" height="26.2" fill="#fdfefe" stroke="#6a7070" stroke-width="0.75"/>
<rect x="14.6" y="65.4" width="3.8" height="1.2" fill="#333"/>
<rect x="14.6" y="91.5" width="3.8" height="1.2" fill="#333"/>
<rect x="49.9" y="65.9" width="3.2" height="26.2" fill="#fdfefe" stroke="#6a7070" stroke-width="0.75"/>
<rect x="49.6" y="65.4" width="3.8" height="1.2" fill="#333"/>
<rect x="49.6" y="91.5" width="3.8" height="1.2" fill="#333"/>
<rect x="18.3" y="71.7" width="31.4" height="14.6" fill="#a9a9a9"/>
<rect x="18.90" y="72.30" width="4.20" height="3.50" fill="#e6e6e6"/>
<rect x="24.10" y="72.30" width="4.20" height="3.50" fill="#e6e6e6"/>
<rect x="29.30" y="72.30" width="4.20" height="3.50" fill="#e6e6e6"/>
<rect x="34.50" y="72.30" width="4.20" height="3.50" fill="#e6e6e6"/>
<rect x="39.70" y="72.30" width="4.20" height="3.50" fill="#e6e6e6"/>
<rect x="44.90" y="72.30" width="4.20" height="3.50" fill="#e6e6e6"/>
<rect x="18.90" y="77.90" width="4.20" height="3.40" fill="#e6e6e6"/>
<rect x="24.10" y="77.90" width="4.20" height="3.40" fill="#e6e6e6"/>
<rect x="29.30" y="77.90" width="4.20" height="3.40" fill="#e6e6e6"/>
<rect x="34.50" y="77.90" width="4.20" height="3.40" fill="#e6e6e6"/>
<rect x="39.70" y="77.90" width="4.20" height="3.40" fill="#e6e6e6"/>
<rect x="44.90" y="77.90" width="4.20" height="3.40" fill="#e6e6e6"/>
<rect x="18.90" y="83.40" width="4.20" height="2.40" fill="#e6e6e6"/>
<rect x="24.10" y="83.40" width="4.20" height="2.40" fill="#e6e6e6"/>
<rect x="29.30" y="83.40" width="4.20" height="2.40" fill="#e6e6e6"/>
<rect x="34.50" y="83.40" width="4.20" height="2.40" fill="#e6e6e6"/>
<rect x="39.70" y="83.40" width="4.20" height="2.40" fill="#e6e6e6"/>
<rect x="44.90" y="83.40" width="4.20" height="2.40" fill="#e6e6e6"/>
<rect x="18.3" y="69.9" width="31.4" height="2.0" fill="#111"/>
<rect x="18.3" y="76.4" width="31.4" height="1.2" fill="#1a1a1a"/>
<rect x="18.3" y="81.8" width="31.4" height="1.2" fill="#1a1a1a"/>
<rect x="18.3" y="86.4" width="31.4" height="2.3" fill="#111"/>
<rect x="14.6" y="70.9" width="38.9" height="0.8" fill="#222"/>
<rect x="14.6" y="86.0" width="38.9" height="0.8" fill="#222"/>
<polygon points="12.3,124.20 34.70,124.20 42.20,131.85 34.70,139.50 12.3,139.50" fill="#17924b"/>
<polygon points="12.3,142.58 39.30,142.58 46.80,150.23 39.30,157.88 12.3,157.88" fill="#4bab3c"/>
<polygon points="12.3,160.96 43.90,160.96 51.40,168.61 43.90,176.26 12.3,176.26" fill="#c0d400"/>
<polygon points="12.3,179.34 48.50,179.34 56.00,186.99 48.50,194.64 12.3,194.64" fill="#f4e600"/>
<polygon points="12.3,197.72 53.10,197.72 60.60,205.37 53.10,213.02 12.3,213.02" fill="#f0b418"/>
<polygon points="12.3,216.10 57.70,216.10 65.20,223.75 57.70,231.40 12.3,231.40" fill="#e8741a"/>
<polygon points="12.3,234.48 62.30,234.48 69.80,242.13 62.30,249.78 12.3,249.78" fill="#e40c1c"/>
<text x="15.799999999999999" y="137.10" font-size="14.2" font-weight="bold" fill="#e6ffe8" stroke="#e6ffe8" stroke-width="0.15">A</text>
<text x="15.799999999999999" y="155.48" font-size="14.2" font-weight="bold" fill="#eaffe6" stroke="#eaffe6" stroke-width="0.15">A</text>
<text x="15.799999999999999" y="173.86" font-size="14.2" font-weight="bold" fill="#fbffd0" stroke="#fbffd0" stroke-width="0.15">A</text>
<text x="15.6" y="192.24" font-size="14.2" font-weight="bold" fill="#f8f27a" stroke="#f8f27a" stroke-width="0.0">B</text>
<text x="15.6" y="210.62" font-size="14.2" font-weight="bold" fill="#fff6c0" stroke="#fff6c0" stroke-width="0.0">C</text>
<text x="15.6" y="229.00" font-size="14.2" font-weight="bold" fill="#ffead0" stroke="#ffead0" stroke-width="0.0">D</text>
<text x="15.6" y="247.38" font-size="14.2" font-weight="bold" fill="#ffd6d6" stroke="#ffd6d6" stroke-width="0.0">E</text>
<rect x="26.20" y="128.15" width="4.20" height="1.5" fill="#e6ffe8"/><rect x="27.55" y="126.80" width="1.5" height="4.20" fill="#e6ffe8"/>
<rect x="31.10" y="128.15" width="4.20" height="1.5" fill="#e6ffe8"/><rect x="32.45" y="126.80" width="1.5" height="4.20" fill="#e6ffe8"/>
<rect x="26.10" y="146.65" width="4.20" height="1.5" fill="#eaffe6"/><rect x="27.45" y="145.30" width="1.5" height="4.20" fill="#eaffe6"/>
<line x1="12" y1="181.3" x2="79.5" y2="248" stroke="#b5222a" stroke-width="3.1"/>
<line x1="79.5" y1="181.3" x2="12.3" y2="247.7" stroke="#b5222a" stroke-width="3.1"/>
<path d="M92.9,125.0 C99.5,124.6 103.7,126.2 103.7,130.5 L103.7,145.0 C103.7,148.2 105.5,149.8 108.6,150.2 C105.5,150.6 103.7,152.2 103.7,155.4 L103.7,171.5 C103.7,175.6 99.5,177.0 92.9,176.7 L92.9,176.0 C98.5,175.9 101.1,174.5 101.1,171.2 L101.1,155.0 C101.1,152.2 102.6,150.7 104.8,150.2 C102.6,149.7 101.1,148.2 101.1,145.4 L101.1,130.8 C101.1,127.4 98.5,125.8 92.9,125.7 Z" fill="#2a8bc6"/>
<text x="111.8" y="139.90" font-size="15.2" font-weight="bold" fill="#111">L</text>
<text x="111.8" y="156.45" font-size="15.2" font-weight="bold" fill="#111">E</text>
<text x="111.8" y="173.00" font-size="15.2" font-weight="bold" fill="#111">D</text>
<rect x="12.75" y="264" width="145.1" height="38.4" fill="#fff" stroke="#93c1d3" stroke-width="1.1"/>
<text x="12.0" y="325.2" font-size="9.6" font-weight="bold" fill="#1a1a1a" stroke="#1a1a1a" stroke-width="0.25" textLength="37.9" lengthAdjust="spacingAndGlyphs">874/2012</text>
<rect x="132.2" y="311.3" width="25.7" height="16.9" fill="#18389a"/>
<circle cx="150.70" cy="319.70" r="0.75" fill="#6d88c8"/>
<circle cx="149.95" cy="322.50" r="0.75" fill="#6d88c8"/>
<circle cx="147.90" cy="324.55" r="0.75" fill="#6d88c8"/>
<circle cx="145.10" cy="325.30" r="0.75" fill="#6d88c8"/>
<circle cx="142.30" cy="324.55" r="0.75" fill="#6d88c8"/>
<circle cx="140.25" cy="322.50" r="0.75" fill="#6d88c8"/>
<circle cx="139.50" cy="319.70" r="0.75" fill="#6d88c8"/>
<circle cx="140.25" cy="316.90" r="0.75" fill="#6d88c8"/>
<circle cx="142.30" cy="314.85" r="0.75" fill="#6d88c8"/>
<circle cx="145.10" cy="314.10" r="0.75" fill="#6d88c8"/>
<circle cx="147.90" cy="314.85" r="0.75" fill="#6d88c8"/>
<circle cx="149.95" cy="316.90" r="0.75" fill="#6d88c8"/>
<text x="62.0" y="78.7" font-size="9.9" fill="#161616" stroke="#161616" stroke-width="0.28" textLength="99.85" lengthAdjust="spacingAndGlyphs">See valgusti sisaldab sis-</text>
<text x="62.0" y="88.8" font-size="9.9" fill="#161616" stroke="#161616" stroke-width="0.28" textLength="91.25" lengthAdjust="spacingAndGlyphs">seehitatud LED-lampe.</text>
<text x="16.7" y="286.1" font-size="9.9" fill="#161616" stroke="#161616" stroke-width="0.28" textLength="127.20" lengthAdjust="spacingAndGlyphs">Valgustis ei saa pirne vahetada.</text>
<rect x="192.10" y="283.35" width="3.60" height="32.45" fill="#676767"/>
<rect x="192.10" y="283.35" width="14.40" height="3.30" fill="#676767"/>
<rect x="192.10" y="298.20" width="13.90" height="3.30" fill="#676767"/>
<rect x="192.10" y="312.50" width="15.70" height="3.30" fill="#676767"/>
<rect x="210.50" y="283.35" width="20.20" height="3.30" fill="#676767"/>
<rect x="218.80" y="283.35" width="3.60" height="32.45" fill="#676767"/>
</g><g transform="translate(0,682.667)">
<rect x="7.1" y="8.1" width="156.3" height="325.55" rx="3.5" fill="#fdfefe" stroke="#cdfbff" stroke-width="5.5"/>
<rect x="7.1" y="8.1" width="156.3" height="325.55" rx="3.5" fill="none" stroke="#378fba" stroke-width="2.3"/>
<rect x="12.0" y="49.8" width="146.6" height="2.6" fill="#d8f6fb"/><rect x="12.2" y="50.3" width="146.2" height="1.5" fill="#4a9dbf"/>
<text transform="translate(21.7 33.3) skewX(-10)" x="0" y="0" font-size="9.8" font-weight="bold" fill="#141414" stroke="#141414" stroke-width="0.3" textLength="18.4" lengthAdjust="spacingAndGlyphs">vida</text>
<ellipse cx="46.5" cy="31.9" rx="6.6" ry="8.1" fill="#141414"/>
<line x1="40.6" y1="29.0" x2="47.8" y2="39.2" stroke="#fff" stroke-width="1.7"/>
<line x1="40.4" y1="38.6" x2="46.6" y2="29.6" stroke="#fff" stroke-width="1.6"/>
<line x1="48.9" y1="23.2" x2="50.1" y2="38.0" stroke="#fff" stroke-width="1.2"/>
<line x1="39.5" y1="28.6" x2="49.0" y2="28.2" stroke="#fff" stroke-width="0.9"/>
<text x="52.6" y="38.0" font-size="10.0" font-weight="bold" fill="#141414" stroke="#141414" stroke-width="0.4" textLength="18.0" lengthAdjust="spacingAndGlyphs">.com</text>
<text x="99.5" y="35.6" font-size="10.1" fill="#222" stroke="#222" stroke-width="0.3" textLength="27.2" lengthAdjust="spacingAndGlyphs">50249</text>
<rect x="12.9" y="59.7" width="42.5" height="42.4" rx="3" fill="#f6fdfe" stroke="#4a8fa2" stroke-width="1.3"/>
<rect x="14.9" y="65.9" width="3.2" height="26.2" fill="#fdfefe" stroke="#6a7070" stroke-width="0.75"/>
<rect x="14.6" y="65.4" width="3.8" height="1.2" fill="#333"/>
<rect x="14.6" y="91.5" width="3.8" height="1.2" fill="#333"/>
<rect x="49.9" y="65.9" width="3.2" height="26.2" fill="#fdfefe" stroke="#6a7070" stroke-width="0.75"/>
<rect x="49.6" y="65.4" width="3.8" height="1.2" fill="#333"/>
<rect x="49.6" y="91.5" width="3.8" height="1.2" fill="#333"/>
<rect x="18.3" y="71.7" width="31.4" height="14.6" fill="#a9a9a9"/>
<rect x="18.90" y="72.30" width="4.20" height="3.50" fill="#e6e6e6"/>
<rect x="24.10" y="72.30" width="4.20" height="3.50" fill="#e6e6e6"/>
<rect x="29.30" y="72.30" width="4.20" height="3.50" fill="#e6e6e6"/>
<rect x="34.50" y="72.30" width="4.20" height="3.50" fill="#e6e6e6"/>
<rect x="39.70" y="72.30" width="4.20" height="3.50" fill="#e6e6e6"/>
<rect x="44.90" y="72.30" width="4.20" height="3.50" fill="#e6e6e6"/>
<rect x="18.90" y="77.90" width="4.20" height="3.40" fill="#e6e6e6"/>
<rect x="24.10" y="77.90" width="4.20" height="3.40" fill="#e6e6e6"/>
<rect x="29.30" y="77.90" width="4.20" height="3.40" fill="#e6e6e6"/>
<rect x="34.50" y="77.90" width="4.20" height="3.40" fill="#e6e6e6"/>
<rect x="39.70" y="77.90" width="4.20" height="3.40" fill="#e6e6e6"/>
<rect x="44.90" y="77.90" width="4.20" height="3.40" fill="#e6e6e6"/>
<rect x="18.90" y="83.40" width="4.20" height="2.40" fill="#e6e6e6"/>
<rect x="24.10" y="83.40" width="4.20" height="2.40" fill="#e6e6e6"/>
<rect x="29.30" y="83.40" width="4.20" height="2.40" fill="#e6e6e6"/>
<rect x="34.50" y="83.40" width="4.20" height="2.40" fill="#e6e6e6"/>
<rect x="39.70" y="83.40" width="4.20" height="2.40" fill="#e6e6e6"/>
<rect x="44.90" y="83.40" width="4.20" height="2.40" fill="#e6e6e6"/>
<rect x="18.3" y="69.9" width="31.4" height="2.0" fill="#111"/>
<rect x="18.3" y="76.4" width="31.4" height="1.2" fill="#1a1a1a"/>
<rect x="18.3" y="81.8" width="31.4" height="1.2" fill="#1a1a1a"/>
<rect x="18.3" y="86.4" width="31.4" height="2.3" fill="#111"/>
<rect x="14.6" y="70.9" width="38.9" height="0.8" fill="#222"/>
<rect x="14.6" y="86.0" width="38.9" height="0.8" fill="#222"/>
<polygon points="12.3,124.20 34.70,124.20 42.20,131.85 34.70,139.50 12.3,139.50" fill="#17924b"/>
<polygon points="12.3,142.58 39.30,142.58 46.80,150.23 39.30,157.88 12.3,157.88" fill="#4bab3c"/>
<polygon points="12.3,160.96 43.90,160.96 51.40,168.61 43.90,176.26 12.3,176.26" fill="#c0d400"/>
<polygon points="12.3,179.34 48.50,179.34 56.00,186.99 48.50,194.64 12.3,194.64" fill="#f4e600"/>
<polygon points="12.3,197.72 53.10,197.72 60.60,205.37 53.10,213.02 12.3,213.02" fill="#f0b418"/>
<polygon points="12.3,216.10 57.70,216.10 65.20,223.75 57.70,231.40 12.3,231.40" fill="#e8741a"/>
<polygon points="12.3,234.48 62.30,234.48 69.80,242.13 62.30,249.78 12.3,249.78" fill="#e40c1c"/>
<text x="15.799999999999999" y="137.10" font-size="14.2" font-weight="bold" fill="#e6ffe8" stroke="#e6ffe8" stroke-width="0.15">A</text>
<text x="15.799999999999999" y="155.48" font-size="14.2" font-weight="bold" fill="#eaffe6" stroke="#eaffe6" stroke-width="0.15">A</text>
<text x="15.799999999999999" y="173.86" font-size="14.2" font-weight="bold" fill="#fbffd0" stroke="#fbffd0" stroke-width="0.15">A</text>
<text x="15.6" y="192.24" font-size="14.2" font-weight="bold" fill="#f8f27a" stroke="#f8f27a" stroke-width="0.0">B</text>
<text x="15.6" y="210.62" font-size="14.2" font-weight="bold" fill="#fff6c0" stroke="#fff6c0" stroke-width="0.0">C</text>
<text x="15.6" y="229.00" font-size="14.2" font-weight="bold" fill="#ffead0" stroke="#ffead0" stroke-width="0.0">D</text>
<text x="15.6" y="247.38" font-size="14.2" font-weight="bold" fill="#ffd6d6" stroke="#ffd6d6" stroke-width="0.0">E</text>
<rect x="26.20" y="128.15" width="4.20" height="1.5" fill="#e6ffe8"/><rect x="27.55" y="126.80" width="1.5" height="4.20" fill="#e6ffe8"/>
<rect x="31.10" y="128.15" width="4.20" height="1.5" fill="#e6ffe8"/><rect x="32.45" y="126.80" width="1.5" height="4.20" fill="#e6ffe8"/>
<rect x="26.10" y="146.65" width="4.20" height="1.5" fill="#eaffe6"/><rect x="27.45" y="145.30" width="1.5" height="4.20" fill="#eaffe6"/>
<line x1="12" y1="181.3" x2="79.5" y2="248" stroke="#b5222a" stroke-width="3.1"/>
<line x1="79.5" y1="181.3" x2="12.3" y2="247.7" stroke="#b5222a" stroke-width="3.1"/>
<path d="M92.9,125.0 C99.5,124.6 103.7,126.2 103.7,130.5 L103.7,145.0 C103.7,148.2 105.5,149.8 108.6,150.2 C105.5,150.6 103.7,152.2 103.7,155.4 L103.7,171.5 C103.7,175.6 99.5,177.0 92.9,176.7 L92.9,176.0 C98.5,175.9 101.1,174.5 101.1,171.2 L101.1,155.0 C101.1,152.2 102.6,150.7 104.8,150.2 C102.6,149.7 101.1,148.2 101.1,145.4 L101.1,130.8 C101.1,127.4 98.5,125.8 92.9,125.7 Z" fill="#2a8bc6"/>
<text x="111.8" y="139.90" font-size="15.2" font-weight="bold" fill="#111">L</text>
<text x="111.8" y="156.45" font-size="15.2" font-weight="bold" fill="#111">E</text>
<text x="111.8" y="173.00" font-size="15.2" font-weight="bold" fill="#111">D</text>
<rect x="12.75" y="264" width="145.1" height="38.4" fill="#fff" stroke="#93c1d3" stroke-width="1.1"/>
<text x="12.0" y="325.2" font-size="9.6" font-weight="bold" fill="#1a1a1a" stroke="#1a1a1a" stroke-width="0.25" textLength="37.9" lengthAdjust="spacingAndGlyphs">874/2012</text>
<rect x="132.2" y="311.3" width="25.7" height="16.9" fill="#18389a"/>
<circle cx="150.70" cy="319.70" r="0.75" fill="#6d88c8"/>
<circle cx="149.95" cy="322.50" r="0.75" fill="#6d88c8"/>
<circle cx="147.90" cy="324.55" r="0.75" fill="#6d88c8"/>
<circle cx="145.10" cy="325.30" r="0.75" fill="#6d88c8"/>
<circle cx="142.30" cy="324.55" r="0.75" fill="#6d88c8"/>
<circle cx="140.25" cy="322.50" r="0.75" fill="#6d88c8"/>
<circle cx="139.50" cy="319.70" r="0.75" fill="#6d88c8"/>
<circle cx="140.25" cy="316.90" r="0.75" fill="#6d88c8"/>
<circle cx="142.30" cy="314.85" r="0.75" fill="#6d88c8"/>
<circle cx="145.10" cy="314.10" r="0.75" fill="#6d88c8"/>
<circle cx="147.90" cy="314.85" r="0.75" fill="#6d88c8"/>
<circle cx="149.95" cy="316.90" r="0.75" fill="#6d88c8"/>
<text x="62.0" y="73.4" font-size="9.9" fill="#161616" stroke="#161616" stroke-width="0.28" textLength="93.55" lengthAdjust="spacingAndGlyphs">Valaisin sisältää sisään-</text>
<text x="62.0" y="84.5" font-size="9.9" fill="#161616" stroke="#161616" stroke-width="0.28" textLength="70.95" lengthAdjust="spacingAndGlyphs">rakennettuja LED-</text>
<text x="62.0" y="94.9" font-size="9.9" fill="#161616" stroke="#161616" stroke-width="0.28" textLength="39.65" lengthAdjust="spacingAndGlyphs">lamppuja.</text>
<text x="16.7" y="281.1" font-size="9.9" fill="#161616" stroke="#161616" stroke-width="0.28" textLength="109.20" lengthAdjust="spacingAndGlyphs">Valaisimen lamppuja ei voi</text>
<text x="16.7" y="292.0" font-size="9.9" fill="#161616" stroke="#161616" stroke-width="0.28" textLength="31.90" lengthAdjust="spacingAndGlyphs">vaihtaa.</text>
<rect x="192.10" y="283.35" width="3.60" height="32.45" fill="#676767"/>
<rect x="192.10" y="283.35" width="14.40" height="3.30" fill="#676767"/>
<rect x="192.10" y="298.20" width="13.90" height="3.30" fill="#676767"/>
<rect x="210.00" y="283.35" width="9.10" height="3.30" fill="#676767"/>
<rect x="212.85" y="283.35" width="3.40" height="32.45" fill="#676767"/>
<rect x="210.00" y="312.50" width="9.10" height="3.30" fill="#676767"/>
</g><g transform="translate(256,682.667)">
<rect x="7.1" y="8.1" width="156.3" height="325.55" rx="3.5" fill="#fdfefe" stroke="#cdfbff" stroke-width="5.5"/>
<rect x="7.1" y="8.1" width="156.3" height="325.55" rx="3.5" fill="none" stroke="#378fba" stroke-width="2.3"/>
<rect x="12.0" y="49.8" width="146.6" height="2.6" fill="#d8f6fb"/><rect x="12.2" y="50.3" width="146.2" height="1.5" fill="#4a9dbf"/>
<text transform="translate(21.7 33.3) skewX(-10)" x="0" y="0" font-size="9.8" font-weight="bold" fill="#141414" stroke="#141414" stroke-width="0.3" textLength="18.4" lengthAdjust="spacingAndGlyphs">vida</text>
<ellipse cx="46.5" cy="31.9" rx="6.6" ry="8.1" fill="#141414"/>
<line x1="40.6" y1="29.0" x2="47.8" y2="39.2" stroke="#fff" stroke-width="1.7"/>
<line x1="40.4" y1="38.6" x2="46.6" y2="29.6" stroke="#fff" stroke-width="1.6"/>
<line x1="48.9" y1="23.2" x2="50.1" y2="38.0" stroke="#fff" stroke-width="1.2"/>
<line x1="39.5" y1="28.6" x2="49.0" y2="28.2" stroke="#fff" stroke-width="0.9"/>
<text x="52.6" y="38.0" font-size="10.0" font-weight="bold" fill="#141414" stroke="#141414" stroke-width="0.4" textLength="18.0" lengthAdjust="spacingAndGlyphs">.com</text>
<text x="99.5" y="35.6" font-size="10.1" fill="#222" stroke="#222" stroke-width="0.3" textLength="27.2" lengthAdjust="spacingAndGlyphs">50249</text>
<rect x="12.9" y="59.7" width="42.5" height="42.4" rx="3" fill="#f6fdfe" stroke="#4a8fa2" stroke-width="1.3"/>
<rect x="14.9" y="65.9" width="3.2" height="26.2" fill="#fdfefe" stroke="#6a7070" stroke-width="0.75"/>
<rect x="14.6" y="65.4" width="3.8" height="1.2" fill="#333"/>
<rect x="14.6" y="91.5" width="3.8" height="1.2" fill="#333"/>
<rect x="49.9" y="65.9" width="3.2" height="26.2" fill="#fdfefe" stroke="#6a7070" stroke-width="0.75"/>
<rect x="49.6" y="65.4" width="3.8" height="1.2" fill="#333"/>
<rect x="49.6" y="91.5" width="3.8" height="1.2" fill="#333"/>
<rect x="18.3" y="71.7" width="31.4" height="14.6" fill="#a9a9a9"/>
<rect x="18.90" y="72.30" width="4.20" height="3.50" fill="#e6e6e6"/>
<rect x="24.10" y="72.30" width="4.20" height="3.50" fill="#e6e6e6"/>
<rect x="29.30" y="72.30" width="4.20" height="3.50" fill="#e6e6e6"/>
<rect x="34.50" y="72.30" width="4.20" height="3.50" fill="#e6e6e6"/>
<rect x="39.70" y="72.30" width="4.20" height="3.50" fill="#e6e6e6"/>
<rect x="44.90" y="72.30" width="4.20" height="3.50" fill="#e6e6e6"/>
<rect x="18.90" y="77.90" width="4.20" height="3.40" fill="#e6e6e6"/>
<rect x="24.10" y="77.90" width="4.20" height="3.40" fill="#e6e6e6"/>
<rect x="29.30" y="77.90" width="4.20" height="3.40" fill="#e6e6e6"/>
<rect x="34.50" y="77.90" width="4.20" height="3.40" fill="#e6e6e6"/>
<rect x="39.70" y="77.90" width="4.20" height="3.40" fill="#e6e6e6"/>
<rect x="44.90" y="77.90" width="4.20" height="3.40" fill="#e6e6e6"/>
<rect x="18.90" y="83.40" width="4.20" height="2.40" fill="#e6e6e6"/>
<rect x="24.10" y="83.40" width="4.20" height="2.40" fill="#e6e6e6"/>
<rect x="29.30" y="83.40" width="4.20" height="2.40" fill="#e6e6e6"/>
<rect x="34.50" y="83.40" width="4.20" height="2.40" fill="#e6e6e6"/>
<rect x="39.70" y="83.40" width="4.20" height="2.40" fill="#e6e6e6"/>
<rect x="44.90" y="83.40" width="4.20" height="2.40" fill="#e6e6e6"/>
<rect x="18.3" y="69.9" width="31.4" height="2.0" fill="#111"/>
<rect x="18.3" y="76.4" width="31.4" height="1.2" fill="#1a1a1a"/>
<rect x="18.3" y="81.8" width="31.4" height="1.2" fill="#1a1a1a"/>
<rect x="18.3" y="86.4" width="31.4" height="2.3" fill="#111"/>
<rect x="14.6" y="70.9" width="38.9" height="0.8" fill="#222"/>
<rect x="14.6" y="86.0" width="38.9" height="0.8" fill="#222"/>
<polygon points="12.3,124.20 34.70,124.20 42.20,131.85 34.70,139.50 12.3,139.50" fill="#17924b"/>
<polygon points="12.3,142.58 39.30,142.58 46.80,150.23 39.30,157.88 12.3,157.88" fill="#4bab3c"/>
<polygon points="12.3,160.96 43.90,160.96 51.40,168.61 43.90,176.26 12.3,176.26" fill="#c0d400"/>
<polygon points="12.3,179.34 48.50,179.34 56.00,186.99 48.50,194.64 12.3,194.64" fill="#f4e600"/>
<polygon points="12.3,197.72 53.10,197.72 60.60,205.37 53.10,213.02 12.3,213.02" fill="#f0b418"/>
<polygon points="12.3,216.10 57.70,216.10 65.20,223.75 57.70,231.40 12.3,231.40" fill="#e8741a"/>
<polygon points="12.3,234.48 62.30,234.48 69.80,242.13 62.30,249.78 12.3,249.78" fill="#e40c1c"/>
<text x="15.799999999999999" y="137.10" font-size="14.2" font-weight="bold" fill="#e6ffe8" stroke="#e6ffe8" stroke-width="0.15">A</text>
<text x="15.799999999999999" y="155.48" font-size="14.2" font-weight="bold" fill="#eaffe6" stroke="#eaffe6" stroke-width="0.15">A</text>
<text x="15.799999999999999" y="173.86" font-size="14.2" font-weight="bold" fill="#fbffd0" stroke="#fbffd0" stroke-width="0.15">A</text>
<text x="15.6" y="192.24" font-size="14.2" font-weight="bold" fill="#f8f27a" stroke="#f8f27a" stroke-width="0.0">B</text>
<text x="15.6" y="210.62" font-size="14.2" font-weight="bold" fill="#fff6c0" stroke="#fff6c0" stroke-width="0.0">C</text>
<text x="15.6" y="229.00" font-size="14.2" font-weight="bold" fill="#ffead0" stroke="#ffead0" stroke-width="0.0">D</text>
<text x="15.6" y="247.38" font-size="14.2" font-weight="bold" fill="#ffd6d6" stroke="#ffd6d6" stroke-width="0.0">E</text>
<rect x="26.20" y="128.15" width="4.20" height="1.5" fill="#e6ffe8"/><rect x="27.55" y="126.80" width="1.5" height="4.20" fill="#e6ffe8"/>
<rect x="31.10" y="128.15" width="4.20" height="1.5" fill="#e6ffe8"/><rect x="32.45" y="126.80" width="1.5" height="4.20" fill="#e6ffe8"/>
<rect x="26.10" y="146.65" width="4.20" height="1.5" fill="#eaffe6"/><rect x="27.45" y="145.30" width="1.5" height="4.20" fill="#eaffe6"/>
<line x1="12" y1="181.3" x2="79.5" y2="248" stroke="#b5222a" stroke-width="3.1"/>
<line x1="79.5" y1="181.3" x2="12.3" y2="247.7" stroke="#b5222a" stroke-width="3.1"/>
<path d="M92.9,125.0 C99.5,124.6 103.7,126.2 103.7,130.5 L103.7,145.0 C103.7,148.2 105.5,149.8 108.6,150.2 C105.5,150.6 103.7,152.2 103.7,155.4 L103.7,171.5 C103.7,175.6 99.5,177.0 92.9,176.7 L92.9,176.0 C98.5,175.9 101.1,174.5 101.1,171.2 L101.1,155.0 C101.1,152.2 102.6,150.7 104.8,150.2 C102.6,149.7 101.1,148.2 101.1,145.4 L101.1,130.8 C101.1,127.4 98.5,125.8 92.9,125.7 Z" fill="#2a8bc6"/>
<text x="111.8" y="139.90" font-size="15.2" font-weight="bold" fill="#111">L</text>
<text x="111.8" y="156.45" font-size="15.2" font-weight="bold" fill="#111">E</text>
<text x="111.8" y="173.00" font-size="15.2" font-weight="bold" fill="#111">D</text>
<rect x="12.75" y="264" width="145.1" height="38.4" fill="#fff" stroke="#93c1d3" stroke-width="1.1"/>
<text x="12.0" y="325.2" font-size="9.6" font-weight="bold" fill="#1a1a1a" stroke="#1a1a1a" stroke-width="0.25" textLength="37.9" lengthAdjust="spacingAndGlyphs">874/2012</text>
<rect x="132.2" y="311.3" width="25.7" height="16.9" fill="#18389a"/>
<circle cx="150.70" cy="319.70" r="0.75" fill="#6d88c8"/>
<circle cx="149.95" cy="322.50" r="0.75" fill="#6d88c8"/>
<circle cx="147.90" cy="324.55" r="0.75" fill="#6d88c8"/>
<circle cx="145.10" cy="325.30" r="0.75" fill="#6d88c8"/>
<circle cx="142.30" cy="324.55" r="0.75" fill="#6d88c8"/>
<circle cx="140.25" cy="322.50" r="0.75" fill="#6d88c8"/>
<circle cx="139.50" cy="319.70" r="0.75" fill="#6d88c8"/>
<circle cx="140.25" cy="316.90" r="0.75" fill="#6d88c8"/>
<circle cx="142.30" cy="314.85" r="0.75" fill="#6d88c8"/>
<circle cx="145.10" cy="314.10" r="0.75" fill="#6d88c8"/>
<circle cx="147.90" cy="314.85" r="0.75" fill="#6d88c8"/>
<circle cx="149.95" cy="316.90" r="0.75" fill="#6d88c8"/>
<text x="62.0" y="73.3" font-size="9.9" fill="#161616" stroke="#161616" stroke-width="0.28" textLength="85.75" lengthAdjust="spacingAndGlyphs">Ce luminaire contient</text>
<text x="62.0" y="84.0" font-size="9.9" fill="#161616" stroke="#161616" stroke-width="0.28" textLength="82.65" lengthAdjust="spacingAndGlyphs">des lampes LED inté-</text>
<text x="62.0" y="94.5" font-size="9.9" fill="#161616" stroke="#161616" stroke-width="0.28" textLength="18.55" lengthAdjust="spacingAndGlyphs">grés.</text>
<text x="16.7" y="281.1" font-size="9.9" fill="#161616" stroke="#161616" stroke-width="0.28" textLength="127.20" lengthAdjust="spacingAndGlyphs">Les lampes ne peuvent pas être</text>
<text x="16.7" y="292.0" font-size="9.9" fill="#161616" stroke="#161616" stroke-width="0.28" textLength="113.10" lengthAdjust="spacingAndGlyphs">modifiées dans le luminaire.</text>
<rect x="192.10" y="283.35" width="3.60" height="32.45" fill="#676767"/>
<rect x="192.10" y="283.35" width="14.40" height="3.30" fill="#676767"/>
<rect x="192.10" y="298.20" width="13.90" height="3.30" fill="#676767"/>
<text transform="translate(212.70 315.45) scale(0.7523 1)" x="-3.64" y="0" font-size="46.8" fill="#676767" stroke="#676767" stroke-width="0.39">R</text>
</g><g transform="translate(512,682.667)">
<rect x="7.1" y="8.1" width="156.3" height="325.55" rx="3.5" fill="#fdfefe" stroke="#cdfbff" stroke-width="5.5"/>
<rect x="7.1" y="8.1" width="156.3" height="325.55" rx="3.5" fill="none" stroke="#378fba" stroke-width="2.3"/>
<rect x="12.0" y="49.8" width="146.6" height="2.6" fill="#d8f6fb"/><rect x="12.2" y="50.3" width="146.2" height="1.5" fill="#4a9dbf"/>
<text transform="translate(21.7 33.3) skewX(-10)" x="0" y="0" font-size="9.8" font-weight="bold" fill="#141414" stroke="#141414" stroke-width="0.3" textLength="18.4" lengthAdjust="spacingAndGlyphs">vida</text>
<ellipse cx="46.5" cy="31.9" rx="6.6" ry="8.1" fill="#141414"/>
<line x1="40.6" y1="29.0" x2="47.8" y2="39.2" stroke="#fff" stroke-width="1.7"/>
<line x1="40.4" y1="38.6" x2="46.6" y2="29.6" stroke="#fff" stroke-width="1.6"/>
<line x1="48.9" y1="23.2" x2="50.1" y2="38.0" stroke="#fff" stroke-width="1.2"/>
<line x1="39.5" y1="28.6" x2="49.0" y2="28.2" stroke="#fff" stroke-width="0.9"/>
<text x="52.6" y="38.0" font-size="10.0" font-weight="bold" fill="#141414" stroke="#141414" stroke-width="0.4" textLength="18.0" lengthAdjust="spacingAndGlyphs">.com</text>
<text x="99.5" y="35.6" font-size="10.1" fill="#222" stroke="#222" stroke-width="0.3" textLength="27.2" lengthAdjust="spacingAndGlyphs">50249</text>
<rect x="12.9" y="59.7" width="42.5" height="42.4" rx="3" fill="#f6fdfe" stroke="#4a8fa2" stroke-width="1.3"/>
<rect x="14.9" y="65.9" width="3.2" height="26.2" fill="#fdfefe" stroke="#6a7070" stroke-width="0.75"/>
<rect x="14.6" y="65.4" width="3.8" height="1.2" fill="#333"/>
<rect x="14.6" y="91.5" width="3.8" height="1.2" fill="#333"/>
<rect x="49.9" y="65.9" width="3.2" height="26.2" fill="#fdfefe" stroke="#6a7070" stroke-width="0.75"/>
<rect x="49.6" y="65.4" width="3.8" height="1.2" fill="#333"/>
<rect x="49.6" y="91.5" width="3.8" height="1.2" fill="#333"/>
<rect x="18.3" y="71.7" width="31.4" height="14.6" fill="#a9a9a9"/>
<rect x="18.90" y="72.30" width="4.20" height="3.50" fill="#e6e6e6"/>
<rect x="24.10" y="72.30" width="4.20" height="3.50" fill="#e6e6e6"/>
<rect x="29.30" y="72.30" width="4.20" height="3.50" fill="#e6e6e6"/>
<rect x="34.50" y="72.30" width="4.20" height="3.50" fill="#e6e6e6"/>
<rect x="39.70" y="72.30" width="4.20" height="3.50" fill="#e6e6e6"/>
<rect x="44.90" y="72.30" width="4.20" height="3.50" fill="#e6e6e6"/>
<rect x="18.90" y="77.90" width="4.20" height="3.40" fill="#e6e6e6"/>
<rect x="24.10" y="77.90" width="4.20" height="3.40" fill="#e6e6e6"/>
<rect x="29.30" y="77.90" width="4.20" height="3.40" fill="#e6e6e6"/>
<rect x="34.50" y="77.90" width="4.20" height="3.40" fill="#e6e6e6"/>
<rect x="39.70" y="77.90" width="4.20" height="3.40" fill="#e6e6e6"/>
<rect x="44.90" y="77.90" width="4.20" height="3.40" fill="#e6e6e6"/>
<rect x="18.90" y="83.40" width="4.20" height="2.40" fill="#e6e6e6"/>
<rect x="24.10" y="83.40" width="4.20" height="2.40" fill="#e6e6e6"/>
<rect x="29.30" y="83.40" width="4.20" height="2.40" fill="#e6e6e6"/>
<rect x="34.50" y="83.40" width="4.20" height="2.40" fill="#e6e6e6"/>
<rect x="39.70" y="83.40" width="4.20" height="2.40" fill="#e6e6e6"/>
<rect x="44.90" y="83.40" width="4.20" height="2.40" fill="#e6e6e6"/>
<rect x="18.3" y="69.9" width="31.4" height="2.0" fill="#111"/>
<rect x="18.3" y="76.4" width="31.4" height="1.2" fill="#1a1a1a"/>
<rect x="18.3" y="81.8" width="31.4" height="1.2" fill="#1a1a1a"/>
<rect x="18.3" y="86.4" width="31.4" height="2.3" fill="#111"/>
<rect x="14.6" y="70.9" width="38.9" height="0.8" fill="#222"/>
<rect x="14.6" y="86.0" width="38.9" height="0.8" fill="#222"/>
<polygon points="12.3,124.20 34.70,124.20 42.20,131.85 34.70,139.50 12.3,139.50" fill="#17924b"/>
<polygon points="12.3,142.58 39.30,142.58 46.80,150.23 39.30,157.88 12.3,157.88" fill="#4bab3c"/>
<polygon points="12.3,160.96 43.90,160.96 51.40,168.61 43.90,176.26 12.3,176.26" fill="#c0d400"/>
<polygon points="12.3,179.34 48.50,179.34 56.00,186.99 48.50,194.64 12.3,194.64" fill="#f4e600"/>
<polygon points="12.3,197.72 53.10,197.72 60.60,205.37 53.10,213.02 12.3,213.02" fill="#f0b418"/>
<polygon points="12.3,216.10 57.70,216.10 65.20,223.75 57.70,231.40 12.3,231.40" fill="#e8741a"/>
<polygon points="12.3,234.48 62.30,234.48 69.80,242.13 62.30,249.78 12.3,249.78" fill="#e40c1c"/>
<text x="15.799999999999999" y="137.10" font-size="14.2" font-weight="bold" fill="#e6ffe8" stroke="#e6ffe8" stroke-width="0.15">A</text>
<text x="15.799999999999999" y="155.48" font-size="14.2" font-weight="bold" fill="#eaffe6" stroke="#eaffe6" stroke-width="0.15">A</text>
<text x="15.799999999999999" y="173.86" font-size="14.2" font-weight="bold" fill="#fbffd0" stroke="#fbffd0" stroke-width="0.15">A</text>
<text x="15.6" y="192.24" font-size="14.2" font-weight="bold" fill="#f8f27a" stroke="#f8f27a" stroke-width="0.0">B</text>
<text x="15.6" y="210.62" font-size="14.2" font-weight="bold" fill="#fff6c0" stroke="#fff6c0" stroke-width="0.0">C</text>
<text x="15.6" y="229.00" font-size="14.2" font-weight="bold" fill="#ffead0" stroke="#ffead0" stroke-width="0.0">D</text>
<text x="15.6" y="247.38" font-size="14.2" font-weight="bold" fill="#ffd6d6" stroke="#ffd6d6" stroke-width="0.0">E</text>
<rect x="26.20" y="128.15" width="4.20" height="1.5" fill="#e6ffe8"/><rect x="27.55" y="126.80" width="1.5" height="4.20" fill="#e6ffe8"/>
<rect x="31.10" y="128.15" width="4.20" height="1.5" fill="#e6ffe8"/><rect x="32.45" y="126.80" width="1.5" height="4.20" fill="#e6ffe8"/>
<rect x="26.10" y="146.65" width="4.20" height="1.5" fill="#eaffe6"/><rect x="27.45" y="145.30" width="1.5" height="4.20" fill="#eaffe6"/>
<line x1="12" y1="181.3" x2="79.5" y2="248" stroke="#b5222a" stroke-width="3.1"/>
<line x1="79.5" y1="181.3" x2="12.3" y2="247.7" stroke="#b5222a" stroke-width="3.1"/>
<path d="M92.9,125.0 C99.5,124.6 103.7,126.2 103.7,130.5 L103.7,145.0 C103.7,148.2 105.5,149.8 108.6,150.2 C105.5,150.6 103.7,152.2 103.7,155.4 L103.7,171.5 C103.7,175.6 99.5,177.0 92.9,176.7 L92.9,176.0 C98.5,175.9 101.1,174.5 101.1,171.2 L101.1,155.0 C101.1,152.2 102.6,150.7 104.8,150.2 C102.6,149.7 101.1,148.2 101.1,145.4 L101.1,130.8 C101.1,127.4 98.5,125.8 92.9,125.7 Z" fill="#2a8bc6"/>
<text x="111.8" y="139.90" font-size="15.2" font-weight="bold" fill="#111">L</text>
<text x="111.8" y="156.45" font-size="15.2" font-weight="bold" fill="#111">E</text>
<text x="111.8" y="173.00" font-size="15.2" font-weight="bold" fill="#111">D</text>
<rect x="12.75" y="264" width="145.1" height="38.4" fill="#fff" stroke="#93c1d3" stroke-width="1.1"/>
<text x="12.0" y="325.2" font-size="9.6" font-weight="bold" fill="#1a1a1a" stroke="#1a1a1a" stroke-width="0.25" textLength="37.9" lengthAdjust="spacingAndGlyphs">874/2012</text>
<rect x="132.2" y="311.3" width="25.7" height="16.9" fill="#18389a"/>
<circle cx="150.70" cy="319.70" r="0.75" fill="#6d88c8"/>
<circle cx="149.95" cy="322.50" r="0.75" fill="#6d88c8"/>
<circle cx="147.90" cy="324.55" r="0.75" fill="#6d88c8"/>
<circle cx="145.10" cy="325.30" r="0.75" fill="#6d88c8"/>
<circle cx="142.30" cy="324.55" r="0.75" fill="#6d88c8"/>
<circle cx="140.25" cy="322.50" r="0.75" fill="#6d88c8"/>
<circle cx="139.50" cy="319.70" r="0.75" fill="#6d88c8"/>
<circle cx="140.25" cy="316.90" r="0.75" fill="#6d88c8"/>
<circle cx="142.30" cy="314.85" r="0.75" fill="#6d88c8"/>
<circle cx="145.10" cy="314.10" r="0.75" fill="#6d88c8"/>
<circle cx="147.90" cy="314.85" r="0.75" fill="#6d88c8"/>
<circle cx="149.95" cy="316.90" r="0.75" fill="#6d88c8"/>
<text x="62.0" y="73.2" font-size="9.9" fill="#161616" stroke="#161616" stroke-width="0.28" textLength="78.75" lengthAdjust="spacingAndGlyphs">Ovo rasvjetno tijelo</text>
<text x="62.0" y="84.0" font-size="9.9" fill="#161616" stroke="#161616" stroke-width="0.28" textLength="95.95" lengthAdjust="spacingAndGlyphs">sadrži ugrađene LED sv-</text>
<text x="62.0" y="94.4" font-size="9.9" fill="#161616" stroke="#161616" stroke-width="0.28" textLength="28.75" lengthAdjust="spacingAndGlyphs">jetiljke.</text>
<text x="16.7" y="280.6" font-size="9.9" fill="#161616" stroke="#161616" stroke-width="0.28" textLength="119.40" lengthAdjust="spacingAndGlyphs">Ne možete mijenjati svjetiljke</text>
<text x="16.7" y="291.0" font-size="9.9" fill="#161616" stroke="#161616" stroke-width="0.28" textLength="88.90" lengthAdjust="spacingAndGlyphs">ovog rasvjetnog tijela.</text>
<rect x="192.10" y="283.35" width="3.60" height="32.45" fill="#676767"/>
<rect x="211.00" y="283.35" width="3.60" height="32.45" fill="#676767"/>
<rect x="192.10" y="298.20" width="22.50" height="3.30" fill="#676767"/>
<text transform="translate(221.70 315.45) scale(0.7523 1)" x="-3.64" y="0" font-size="46.8" fill="#676767" stroke="#676767" stroke-width="0.39">R</text>
</g><g transform="translate(768,682.667)">
<rect x="7.1" y="8.1" width="156.3" height="325.55" rx="3.5" fill="#fdfefe" stroke="#cdfbff" stroke-width="5.5"/>
<rect x="7.1" y="8.1" width="156.3" height="325.55" rx="3.5" fill="none" stroke="#378fba" stroke-width="2.3"/>
<rect x="12.0" y="49.8" width="146.6" height="2.6" fill="#d8f6fb"/><rect x="12.2" y="50.3" width="146.2" height="1.5" fill="#4a9dbf"/>
<text transform="translate(21.7 33.3) skewX(-10)" x="0" y="0" font-size="9.8" font-weight="bold" fill="#141414" stroke="#141414" stroke-width="0.3" textLength="18.4" lengthAdjust="spacingAndGlyphs">vida</text>
<ellipse cx="46.5" cy="31.9" rx="6.6" ry="8.1" fill="#141414"/>
<line x1="40.6" y1="29.0" x2="47.8" y2="39.2" stroke="#fff" stroke-width="1.7"/>
<line x1="40.4" y1="38.6" x2="46.6" y2="29.6" stroke="#fff" stroke-width="1.6"/>
<line x1="48.9" y1="23.2" x2="50.1" y2="38.0" stroke="#fff" stroke-width="1.2"/>
<line x1="39.5" y1="28.6" x2="49.0" y2="28.2" stroke="#fff" stroke-width="0.9"/>
<text x="52.6" y="38.0" font-size="10.0" font-weight="bold" fill="#141414" stroke="#141414" stroke-width="0.4" textLength="18.0" lengthAdjust="spacingAndGlyphs">.com</text>
<text x="99.5" y="35.6" font-size="10.1" fill="#222" stroke="#222" stroke-width="0.3" textLength="27.2" lengthAdjust="spacingAndGlyphs">50249</text>
<rect x="12.9" y="59.7" width="42.5" height="42.4" rx="3" fill="#f6fdfe" stroke="#4a8fa2" stroke-width="1.3"/>
<rect x="14.9" y="65.9" width="3.2" height="26.2" fill="#fdfefe" stroke="#6a7070" stroke-width="0.75"/>
<rect x="14.6" y="65.4" width="3.8" height="1.2" fill="#333"/>
<rect x="14.6" y="91.5" width="3.8" height="1.2" fill="#333"/>
<rect x="49.9" y="65.9" width="3.2" height="26.2" fill="#fdfefe" stroke="#6a7070" stroke-width="0.75"/>
<rect x="49.6" y="65.4" width="3.8" height="1.2" fill="#333"/>
<rect x="49.6" y="91.5" width="3.8" height="1.2" fill="#333"/>
<rect x="18.3" y="71.7" width="31.4" height="14.6" fill="#a9a9a9"/>
<rect x="18.90" y="72.30" width="4.20" height="3.50" fill="#e6e6e6"/>
<rect x="24.10" y="72.30" width="4.20" height="3.50" fill="#e6e6e6"/>
<rect x="29.30" y="72.30" width="4.20" height="3.50" fill="#e6e6e6"/>
<rect x="34.50" y="72.30" width="4.20" height="3.50" fill="#e6e6e6"/>
<rect x="39.70" y="72.30" width="4.20" height="3.50" fill="#e6e6e6"/>
<rect x="44.90" y="72.30" width="4.20" height="3.50" fill="#e6e6e6"/>
<rect x="18.90" y="77.90" width="4.20" height="3.40" fill="#e6e6e6"/>
<rect x="24.10" y="77.90" width="4.20" height="3.40" fill="#e6e6e6"/>
<rect x="29.30" y="77.90" width="4.20" height="3.40" fill="#e6e6e6"/>
<rect x="34.50" y="77.90" width="4.20" height="3.40" fill="#e6e6e6"/>
<rect x="39.70" y="77.90" width="4.20" height="3.40" fill="#e6e6e6"/>
<rect x="44.90" y="77.90" width="4.20" height="3.40" fill="#e6e6e6"/>
<rect x="18.90" y="83.40" width="4.20" height="2.40" fill="#e6e6e6"/>
<rect x="24.10" y="83.40" width="4.20" height="2.40" fill="#e6e6e6"/>
<rect x="29.30" y="83.40" width="4.20" height="2.40" fill="#e6e6e6"/>
<rect x="34.50" y="83.40" width="4.20" height="2.40" fill="#e6e6e6"/>
<rect x="39.70" y="83.40" width="4.20" height="2.40" fill="#e6e6e6"/>
<rect x="44.90" y="83.40" width="4.20" height="2.40" fill="#e6e6e6"/>
<rect x="18.3" y="69.9" width="31.4" height="2.0" fill="#111"/>
<rect x="18.3" y="76.4" width="31.4" height="1.2" fill="#1a1a1a"/>
<rect x="18.3" y="81.8" width="31.4" height="1.2" fill="#1a1a1a"/>
<rect x="18.3" y="86.4" width="31.4" height="2.3" fill="#111"/>
<rect x="14.6" y="70.9" width="38.9" height="0.8" fill="#222"/>
<rect x="14.6" y="86.0" width="38.9" height="0.8" fill="#222"/>
<polygon points="12.3,124.20 34.70,124.20 42.20,131.85 34.70,139.50 12.3,139.50" fill="#17924b"/>
<polygon points="12.3,142.58 39.30,142.58 46.80,150.23 39.30,157.88 12.3,157.88" fill="#4bab3c"/>
<polygon points="12.3,160.96 43.90,160.96 51.40,168.61 43.90,176.26 12.3,176.26" fill="#c0d400"/>
<polygon points="12.3,179.34 48.50,179.34 56.00,186.99 48.50,194.64 12.3,194.64" fill="#f4e600"/>
<polygon points="12.3,197.72 53.10,197.72 60.60,205.37 53.10,213.02 12.3,213.02" fill="#f0b418"/>
<polygon points="12.3,216.10 57.70,216.10 65.20,223.75 57.70,231.40 12.3,231.40" fill="#e8741a"/>
<polygon points="12.3,234.48 62.30,234.48 69.80,242.13 62.30,249.78 12.3,249.78" fill="#e40c1c"/>
<text x="15.799999999999999" y="137.10" font-size="14.2" font-weight="bold" fill="#e6ffe8" stroke="#e6ffe8" stroke-width="0.15">A</text>
<text x="15.799999999999999" y="155.48" font-size="14.2" font-weight="bold" fill="#eaffe6" stroke="#eaffe6" stroke-width="0.15">A</text>
<text x="15.799999999999999" y="173.86" font-size="14.2" font-weight="bold" fill="#fbffd0" stroke="#fbffd0" stroke-width="0.15">A</text>
<text x="15.6" y="192.24" font-size="14.2" font-weight="bold" fill="#f8f27a" stroke="#f8f27a" stroke-width="0.0">B</text>
<text x="15.6" y="210.62" font-size="14.2" font-weight="bold" fill="#fff6c0" stroke="#fff6c0" stroke-width="0.0">C</text>
<text x="15.6" y="229.00" font-size="14.2" font-weight="bold" fill="#ffead0" stroke="#ffead0" stroke-width="0.0">D</text>
<text x="15.6" y="247.38" font-size="14.2" font-weight="bold" fill="#ffd6d6" stroke="#ffd6d6" stroke-width="0.0">E</text>
<rect x="26.20" y="128.15" width="4.20" height="1.5" fill="#e6ffe8"/><rect x="27.55" y="126.80" width="1.5" height="4.20" fill="#e6ffe8"/>
<rect x="31.10" y="128.15" width="4.20" height="1.5" fill="#e6ffe8"/><rect x="32.45" y="126.80" width="1.5" height="4.20" fill="#e6ffe8"/>
<rect x="26.10" y="146.65" width="4.20" height="1.5" fill="#eaffe6"/><rect x="27.45" y="145.30" width="1.5" height="4.20" fill="#eaffe6"/>
<line x1="12" y1="181.3" x2="79.5" y2="248" stroke="#b5222a" stroke-width="3.1"/>
<line x1="79.5" y1="181.3" x2="12.3" y2="247.7" stroke="#b5222a" stroke-width="3.1"/>
<path d="M92.9,125.0 C99.5,124.6 103.7,126.2 103.7,130.5 L103.7,145.0 C103.7,148.2 105.5,149.8 108.6,150.2 C105.5,150.6 103.7,152.2 103.7,155.4 L103.7,171.5 C103.7,175.6 99.5,177.0 92.9,176.7 L92.9,176.0 C98.5,175.9 101.1,174.5 101.1,171.2 L101.1,155.0 C101.1,152.2 102.6,150.7 104.8,150.2 C102.6,149.7 101.1,148.2 101.1,145.4 L101.1,130.8 C101.1,127.4 98.5,125.8 92.9,125.7 Z" fill="#2a8bc6"/>
<text x="111.8" y="139.90" font-size="15.2" font-weight="bold" fill="#111">L</text>
<text x="111.8" y="156.45" font-size="15.2" font-weight="bold" fill="#111">E</text>
<text x="111.8" y="173.00" font-size="15.2" font-weight="bold" fill="#111">D</text>
<rect x="12.75" y="264" width="145.1" height="38.4" fill="#fff" stroke="#93c1d3" stroke-width="1.1"/>
<text x="12.0" y="325.2" font-size="9.6" font-weight="bold" fill="#1a1a1a" stroke="#1a1a1a" stroke-width="0.25" textLength="37.9" lengthAdjust="spacingAndGlyphs">874/2012</text>
<rect x="132.2" y="311.3" width="25.7" height="16.9" fill="#18389a"/>
<circle cx="150.70" cy="319.70" r="0.75" fill="#6d88c8"/>
<circle cx="149.95" cy="322.50" r="0.75" fill="#6d88c8"/>
<circle cx="147.90" cy="324.55" r="0.75" fill="#6d88c8"/>
<circle cx="145.10" cy="325.30" r="0.75" fill="#6d88c8"/>
<circle cx="142.30" cy="324.55" r="0.75" fill="#6d88c8"/>
<circle cx="140.25" cy="322.50" r="0.75" fill="#6d88c8"/>
<circle cx="139.50" cy="319.70" r="0.75" fill="#6d88c8"/>
<circle cx="140.25" cy="316.90" r="0.75" fill="#6d88c8"/>
<circle cx="142.30" cy="314.85" r="0.75" fill="#6d88c8"/>
<circle cx="145.10" cy="314.10" r="0.75" fill="#6d88c8"/>
<circle cx="147.90" cy="314.85" r="0.75" fill="#6d88c8"/>
<circle cx="149.95" cy="316.90" r="0.75" fill="#6d88c8"/>
<text x="62.0" y="73.2" font-size="9.9" fill="#161616" stroke="#161616" stroke-width="0.28" textLength="95.15" lengthAdjust="spacingAndGlyphs">Ez a lámpatest nem tar-</text>
<text x="62.0" y="84.0" font-size="9.9" fill="#161616" stroke="#161616" stroke-width="0.28" textLength="83.35" lengthAdjust="spacingAndGlyphs">talmaz beépített LED</text>
<text x="62.0" y="94.4" font-size="9.9" fill="#161616" stroke="#161616" stroke-width="0.28" textLength="38.85" lengthAdjust="spacingAndGlyphs">lámpákat.</text>
<text x="16.7" y="280.6" font-size="9.9" fill="#161616" stroke="#161616" stroke-width="0.28" textLength="140.50" lengthAdjust="spacingAndGlyphs">Nem lehet változtatni a lámpákat a</text>
<text x="16.7" y="291.3" font-size="9.9" fill="#161616" stroke="#161616" stroke-width="0.28" textLength="51.40" lengthAdjust="spacingAndGlyphs">lámpatestbe.</text>
<rect x="192.10" y="283.35" width="3.60" height="32.45" fill="#676767"/>
<rect x="211.00" y="283.35" width="3.60" height="32.45" fill="#676767"/>
<rect x="192.10" y="298.20" width="22.50" height="3.30" fill="#676767"/>
<text transform="translate(221.70 315.45) scale(0.8223 1)" x="-3.46" y="0" font-size="46.8" fill="#676767" stroke="#676767" stroke-width="0.30">U</text>
</g>
<rect x="0" y="0" width="1" height="1024" fill="#707070"/><rect x="255" y="0" width="2" height="1024" fill="#707070"/><rect x="511" y="0" width="2" height="1024" fill="#707070"/><rect x="767" y="0" width="2" height="1024" fill="#707070"/><rect x="1023" y="0" width="1" height="1024" fill="#707070"/><rect x="0" y="0" width="1024" height="1" fill="#707070"/><rect x="0" y="340.33" width="1024" height="2" fill="#707070"/><rect x="0" y="681.67" width="1024" height="2" fill="#707070"/><rect x="0" y="1023" width="1024" height="1" fill="#707070"/>
</svg>
</body></html>
